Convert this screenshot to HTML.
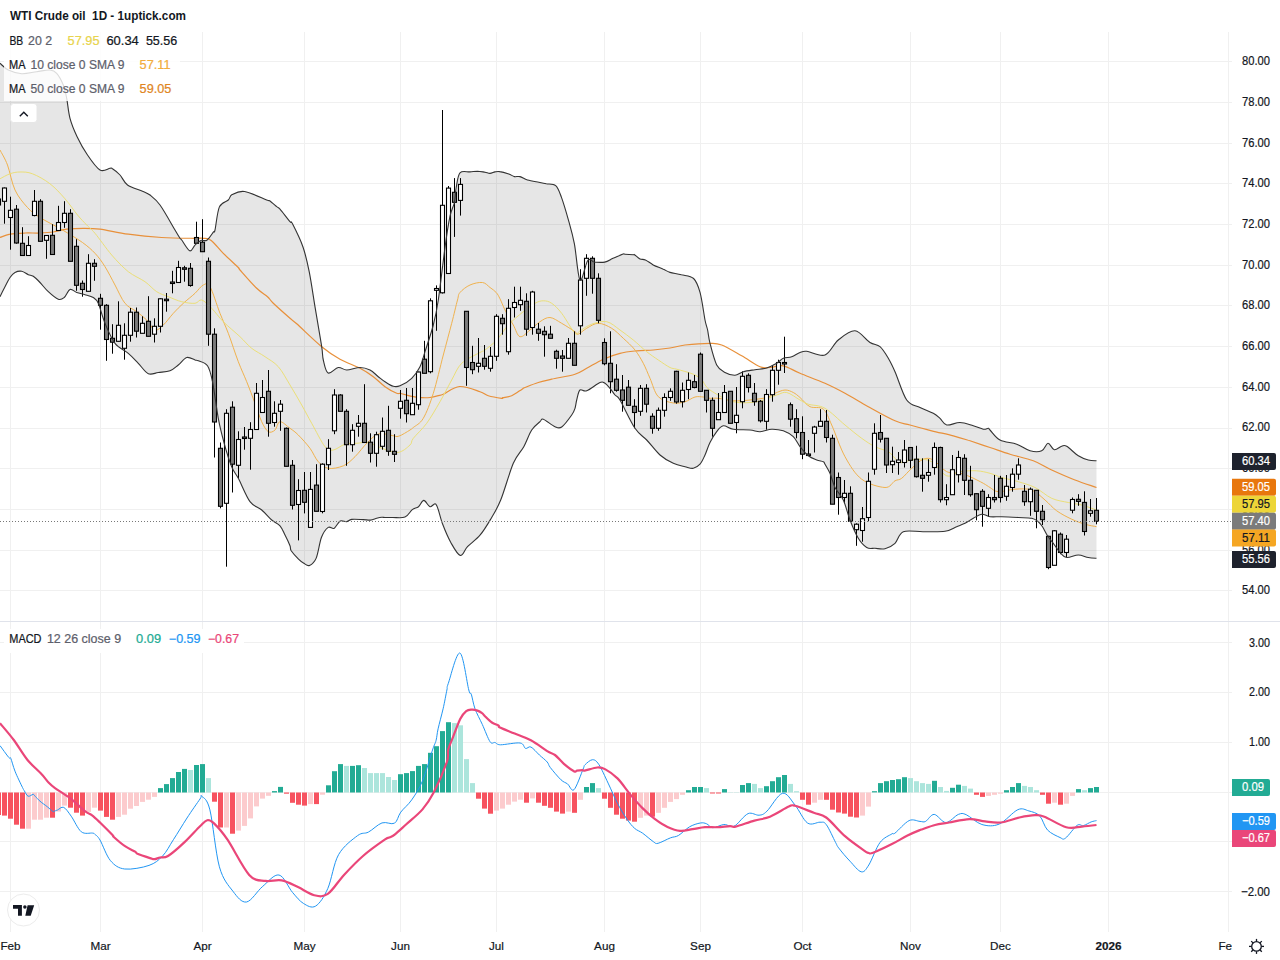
<!DOCTYPE html><html><head><meta charset="utf-8"><style>html,body{margin:0;padding:0;background:#fff;width:1280px;height:960px;overflow:hidden}svg{display:block}text{font-family:"Liberation Sans",sans-serif}</style></head><body>
<svg width="1280" height="960" viewBox="0 0 1280 960">
<rect width="1280" height="960" fill="#fff"/>
<line x1="0" y1="590.5" x2="1232" y2="590.5" stroke="#f0f0f0" stroke-width="1"/>
<line x1="0" y1="550.5" x2="1232" y2="550.5" stroke="#f0f0f0" stroke-width="1"/>
<line x1="0" y1="509.5" x2="1232" y2="509.5" stroke="#f0f0f0" stroke-width="1"/>
<line x1="0" y1="468.5" x2="1232" y2="468.5" stroke="#f0f0f0" stroke-width="1"/>
<line x1="0" y1="428.5" x2="1232" y2="428.5" stroke="#f0f0f0" stroke-width="1"/>
<line x1="0" y1="387.5" x2="1232" y2="387.5" stroke="#f0f0f0" stroke-width="1"/>
<line x1="0" y1="346.5" x2="1232" y2="346.5" stroke="#f0f0f0" stroke-width="1"/>
<line x1="0" y1="305.5" x2="1232" y2="305.5" stroke="#f0f0f0" stroke-width="1"/>
<line x1="0" y1="265.5" x2="1232" y2="265.5" stroke="#f0f0f0" stroke-width="1"/>
<line x1="0" y1="224.5" x2="1232" y2="224.5" stroke="#f0f0f0" stroke-width="1"/>
<line x1="0" y1="183.5" x2="1232" y2="183.5" stroke="#f0f0f0" stroke-width="1"/>
<line x1="0" y1="143.5" x2="1232" y2="143.5" stroke="#f0f0f0" stroke-width="1"/>
<line x1="0" y1="102.5" x2="1232" y2="102.5" stroke="#f0f0f0" stroke-width="1"/>
<line x1="0" y1="61.5" x2="1232" y2="61.5" stroke="#f0f0f0" stroke-width="1"/>
<line x1="10.5" y1="32" x2="10.5" y2="621" stroke="#f0f0f0" stroke-width="1"/>
<line x1="10.5" y1="622" x2="10.5" y2="932" stroke="#f0f0f0" stroke-width="1"/>
<line x1="100.5" y1="32" x2="100.5" y2="621" stroke="#f0f0f0" stroke-width="1"/>
<line x1="100.5" y1="622" x2="100.5" y2="932" stroke="#f0f0f0" stroke-width="1"/>
<line x1="202.5" y1="32" x2="202.5" y2="621" stroke="#f0f0f0" stroke-width="1"/>
<line x1="202.5" y1="622" x2="202.5" y2="932" stroke="#f0f0f0" stroke-width="1"/>
<line x1="304.5" y1="32" x2="304.5" y2="621" stroke="#f0f0f0" stroke-width="1"/>
<line x1="304.5" y1="622" x2="304.5" y2="932" stroke="#f0f0f0" stroke-width="1"/>
<line x1="400.5" y1="32" x2="400.5" y2="621" stroke="#f0f0f0" stroke-width="1"/>
<line x1="400.5" y1="622" x2="400.5" y2="932" stroke="#f0f0f0" stroke-width="1"/>
<line x1="496.5" y1="32" x2="496.5" y2="621" stroke="#f0f0f0" stroke-width="1"/>
<line x1="496.5" y1="622" x2="496.5" y2="932" stroke="#f0f0f0" stroke-width="1"/>
<line x1="604.5" y1="32" x2="604.5" y2="621" stroke="#f0f0f0" stroke-width="1"/>
<line x1="604.5" y1="622" x2="604.5" y2="932" stroke="#f0f0f0" stroke-width="1"/>
<line x1="700.5" y1="32" x2="700.5" y2="621" stroke="#f0f0f0" stroke-width="1"/>
<line x1="700.5" y1="622" x2="700.5" y2="932" stroke="#f0f0f0" stroke-width="1"/>
<line x1="802.5" y1="32" x2="802.5" y2="621" stroke="#f0f0f0" stroke-width="1"/>
<line x1="802.5" y1="622" x2="802.5" y2="932" stroke="#f0f0f0" stroke-width="1"/>
<line x1="910.5" y1="32" x2="910.5" y2="621" stroke="#f0f0f0" stroke-width="1"/>
<line x1="910.5" y1="622" x2="910.5" y2="932" stroke="#f0f0f0" stroke-width="1"/>
<line x1="1000.5" y1="32" x2="1000.5" y2="621" stroke="#f0f0f0" stroke-width="1"/>
<line x1="1000.5" y1="622" x2="1000.5" y2="932" stroke="#f0f0f0" stroke-width="1"/>
<line x1="1108.5" y1="32" x2="1108.5" y2="621" stroke="#f0f0f0" stroke-width="1"/>
<line x1="1108.5" y1="622" x2="1108.5" y2="932" stroke="#f0f0f0" stroke-width="1"/>
<line x1="1228.5" y1="32" x2="1228.5" y2="621" stroke="#f0f0f0" stroke-width="1"/>
<line x1="1228.5" y1="622" x2="1228.5" y2="932" stroke="#f0f0f0" stroke-width="1"/>
<line x1="0" y1="642.5" x2="1232" y2="642.5" stroke="#f0f0f0" stroke-width="1"/>
<line x1="0" y1="692.5" x2="1232" y2="692.5" stroke="#f0f0f0" stroke-width="1"/>
<line x1="0" y1="742.5" x2="1232" y2="742.5" stroke="#f0f0f0" stroke-width="1"/>
<line x1="0" y1="792.5" x2="1232" y2="792.5" stroke="#f0f0f0" stroke-width="1"/>
<line x1="0" y1="841.5" x2="1232" y2="841.5" stroke="#f0f0f0" stroke-width="1"/>
<line x1="0" y1="891.5" x2="1232" y2="891.5" stroke="#f0f0f0" stroke-width="1"/>
<line x1="0" y1="621.5" x2="1280" y2="621.5" stroke="#e0e3eb" stroke-width="1"/>
<path d="M0.0,63.3 C1.4,64.4 4.7,68.3 8.3,70.0 C11.9,71.7 17.0,73.4 21.7,73.7 C26.4,74.0 32.0,72.3 36.7,71.7 C41.4,71.1 46.7,69.7 50.0,70.0 C53.3,70.3 54.5,70.8 56.7,73.3 C58.9,75.8 61.6,80.8 63.3,85.0 C65.0,89.2 65.6,92.8 66.7,98.3 C67.8,103.8 68.3,111.9 70.0,118.3 C71.7,124.7 74.2,130.5 77.1,136.7 C80.0,142.8 83.7,149.4 87.5,155.0 C91.3,160.6 96.2,167.8 100.0,170.0 C103.8,172.2 107.9,168.5 110.0,168.3 C112.1,168.1 110.8,167.6 112.5,168.8 C114.2,169.9 117.5,172.3 120.0,175.0 C122.5,177.7 123.8,182.3 127.5,185.0 C131.2,187.7 138.8,189.6 142.5,191.2 C146.2,192.9 147.1,192.7 150.0,195.0 C152.9,197.3 155.8,199.2 160.0,205.0 C164.2,210.8 171.7,224.4 175.0,230.0 C178.3,235.6 178.9,236.6 180.0,238.3 C181.1,240.0 180.1,237.9 181.7,240.0 C183.3,242.1 187.5,249.9 189.7,250.8 C191.9,251.7 193.0,247.0 194.8,245.3 C196.7,243.6 198.8,241.2 200.8,240.4 C202.8,239.6 204.8,241.6 206.9,240.2 C209.0,238.8 212.0,233.8 213.3,232.1 C214.7,230.4 214.0,234.2 215.0,230.0 C216.0,225.8 217.2,211.9 219.4,206.9 C221.6,201.9 226.2,202.1 228.3,200.0 C230.4,197.9 229.4,196.0 232.1,194.6 C234.8,193.2 238.8,190.6 244.6,191.5 C250.4,192.4 262.5,198.4 266.7,200.0 C270.9,201.6 267.9,199.7 269.6,200.8 C271.3,201.9 275.0,205.3 276.7,206.7 C278.4,208.1 277.8,206.7 280.0,209.2 C282.2,211.7 287.9,219.3 290.0,221.7 C292.1,224.1 290.4,219.6 292.5,223.8 C294.6,227.9 300.1,238.7 302.9,246.7 C305.7,254.7 307.1,261.3 309.2,271.7 C311.3,282.1 313.3,296.7 315.4,309.2 C317.5,321.7 320.4,338.2 321.7,346.7 C323.0,355.2 322.2,355.6 323.3,360.0 C324.4,364.4 325.6,371.8 328.1,373.0 C330.6,374.2 335.2,368.0 338.3,367.5 C341.4,367.0 343.1,370.0 346.7,370.0 C350.3,370.0 356.1,367.5 360.0,367.5 C363.9,367.5 366.9,368.5 370.0,370.0 C373.1,371.5 375.8,374.8 378.3,376.7 C380.8,378.6 382.5,380.1 385.0,381.7 C387.5,383.3 390.8,385.6 393.3,386.3 C395.8,387.0 396.9,387.1 400.0,385.8 C403.1,384.5 408.4,381.5 411.7,378.3 C415.0,375.1 417.8,371.1 420.0,366.7 C422.2,362.3 422.8,358.6 425.0,351.7 C427.2,344.8 431.1,333.6 433.3,325.0 C435.5,316.4 436.4,312.9 438.3,300.0 C440.2,287.1 443.1,261.5 445.0,247.5 C446.9,233.5 448.4,223.8 450.0,216.2 C451.6,208.8 453.4,207.3 454.4,202.5 C455.4,197.7 455.3,192.5 456.2,187.5 C457.2,182.5 457.7,175.3 460.0,172.8 C462.3,170.2 467.1,172.2 470.0,171.9 C472.9,171.7 475.0,171.2 477.5,171.2 C480.0,171.3 482.9,171.9 485.0,172.2 C487.1,172.6 488.3,173.5 490.0,173.4 C491.7,173.4 493.4,172.2 495.0,171.9 C496.6,171.6 497.4,171.2 499.7,171.6 C502.0,171.9 506.4,173.2 508.8,174.0 C511.2,174.8 512.5,176.2 514.4,176.6 C516.3,177.0 517.8,176.0 520.0,176.6 C522.2,177.2 524.4,179.1 527.5,180.0 C530.6,180.9 535.7,181.7 538.8,182.3 C541.9,182.9 543.5,183.2 546.3,183.8 C549.1,184.3 553.2,183.4 555.7,185.6 C558.2,187.8 559.1,190.9 561.3,196.9 C563.5,202.9 566.6,213.5 568.8,221.3 C571.0,229.1 572.5,234.0 574.4,243.8 C576.3,253.5 577.8,277.2 580.0,280.0 C582.2,282.8 585.4,263.8 587.6,260.7 C589.8,257.6 592.1,261.4 593.3,261.7 C594.5,261.9 593.1,262.1 595.0,262.2 C596.9,262.3 601.9,262.7 604.7,262.1 C607.5,261.6 610.3,259.6 612.0,258.8 C613.7,258.0 613.1,258.3 615.0,257.5 C616.9,256.7 621.5,254.7 623.2,254.1 C624.9,253.5 623.3,254.1 625.0,254.2 C626.7,254.3 631.7,254.6 633.3,254.7 C634.9,254.8 633.4,254.0 634.5,254.7 C635.6,255.4 638.2,258.1 640.0,259.0 C641.9,259.9 643.1,258.9 645.4,259.9 C647.6,260.9 650.3,263.3 653.2,264.9 C656.2,266.5 660.5,267.9 663.3,269.2 C666.1,270.4 667.0,271.5 670.0,272.4 C673.1,273.3 677.5,273.7 681.4,274.8 C685.3,275.8 690.5,275.5 693.6,278.5 C696.7,281.5 698.2,285.7 700.1,292.6 C702.0,299.5 703.8,313.8 705.0,320.0 C706.2,326.2 706.8,326.1 707.6,330.0 C708.4,333.9 708.5,337.5 710.0,343.3 C711.5,349.1 714.2,360.1 716.7,365.0 C719.2,369.9 722.0,370.8 725.0,372.5 C728.0,374.2 732.0,375.4 735.0,375.3 C738.0,375.2 740.0,372.6 743.3,371.7 C746.6,370.8 751.1,370.3 755.0,369.7 C758.9,369.1 763.1,369.1 766.7,368.0 C770.3,366.9 773.9,364.9 776.7,363.3 C779.5,361.7 780.8,359.4 783.3,358.3 C785.8,357.2 788.9,357.7 791.7,356.7 C794.5,355.7 797.5,353.4 800.0,352.5 C802.5,351.6 802.5,350.9 806.7,351.3 C810.9,351.7 819.7,356.9 825.0,355.0 C830.3,353.1 833.3,344.0 838.3,340.0 C843.3,336.0 849.7,330.4 855.0,330.8 C860.3,331.2 865.8,339.9 870.0,342.5 C874.2,345.1 877.0,344.1 880.0,346.7 C883.0,349.3 885.8,354.1 888.3,358.3 C890.8,362.5 891.9,364.8 895.0,371.7 C898.1,378.6 902.5,394.0 906.7,400.0 C910.9,406.0 915.6,405.3 920.0,407.5 C924.4,409.7 930.0,411.5 933.3,413.3 C936.6,415.1 937.8,416.4 940.0,418.3 C942.2,420.2 943.4,424.3 946.7,425.0 C950.0,425.7 955.6,422.4 960.0,422.5 C964.4,422.6 969.4,424.7 973.3,425.8 C977.2,426.9 980.8,428.8 983.3,429.2 C985.8,429.6 987.2,428.2 988.3,428.3 C989.4,428.4 988.0,428.1 990.0,430.0 C992.0,431.9 995.5,437.6 1000.0,440.0 C1004.5,442.4 1011.7,442.4 1016.7,444.2 C1021.7,446.0 1025.8,449.7 1030.0,450.8 C1034.2,451.9 1038.7,452.1 1041.7,450.8 C1044.7,449.6 1045.9,443.5 1048.0,443.3 C1050.1,443.1 1051.9,449.2 1054.2,449.7 C1056.5,450.2 1059.6,446.9 1061.7,446.3 C1063.8,445.7 1063.9,444.7 1066.7,446.3 C1069.5,447.9 1074.7,453.5 1078.3,455.8 C1081.9,458.1 1085.3,459.2 1088.3,460.0 C1091.3,460.8 1095.1,460.7 1096.5,460.8 L1096.5,558.3 C1095.1,558.2 1091.3,558.0 1088.3,557.5 C1085.3,557.0 1081.9,555.0 1078.3,555.0 C1074.7,555.0 1069.8,557.9 1066.7,557.5 C1063.7,557.1 1062.2,554.9 1060.0,552.5 C1057.8,550.1 1055.4,546.1 1053.3,543.3 C1051.2,540.5 1049.3,538.6 1047.5,535.8 C1045.7,533.0 1044.0,529.1 1042.5,526.7 C1041.0,524.4 1040.1,523.1 1038.3,521.7 C1036.5,520.3 1035.0,519.0 1031.7,518.3 C1028.4,517.6 1023.3,517.8 1018.3,517.5 C1013.3,517.2 1006.4,516.8 1001.7,516.7 C997.0,516.6 993.3,517.1 990.0,516.7 C986.7,516.3 984.5,513.9 981.7,514.2 C978.9,514.5 976.1,516.8 973.3,518.3 C970.5,519.8 967.8,521.9 965.0,523.3 C962.2,524.7 960.0,525.4 956.7,526.7 C953.4,528.0 950.6,530.5 945.0,531.3 C939.4,532.1 930.2,531.6 923.3,531.7 C916.3,531.8 908.0,529.8 903.3,531.7 C898.6,533.6 898.0,540.5 895.0,543.3 C892.0,546.1 888.3,547.9 885.0,548.7 C881.7,549.5 878.0,548.5 875.0,548.3 C872.0,548.1 869.5,549.2 866.7,547.5 C863.9,545.8 861.1,542.9 858.3,538.3 C855.5,533.7 852.5,526.4 850.0,520.0 C847.5,513.6 845.8,505.4 843.3,500.0 C840.8,494.6 837.2,491.9 835.0,487.5 C832.8,483.1 831.7,477.2 830.0,473.3 C828.3,469.4 826.1,466.1 825.0,464.2 C823.9,462.3 824.7,462.4 823.3,461.7 C821.9,461.0 819.2,461.0 816.7,460.0 C814.2,459.0 811.1,458.0 808.3,455.8 C805.5,453.6 802.5,449.9 800.0,446.7 C797.5,443.5 796.1,439.3 793.3,436.7 C790.5,434.1 786.9,432.1 783.3,430.8 C779.7,429.6 775.6,429.1 771.7,429.2 C767.8,429.3 763.6,431.6 760.0,431.7 C756.4,431.8 754.5,430.4 750.0,430.0 C745.5,429.6 737.8,429.9 733.3,429.2 C728.8,428.5 726.1,425.4 723.3,425.8 C720.5,426.2 718.9,428.9 716.7,431.7 C714.5,434.5 712.0,438.6 710.0,442.5 C708.0,446.4 706.7,451.4 705.0,455.0 C703.3,458.6 702.0,462.0 700.0,464.2 C698.0,466.4 695.8,467.9 693.3,468.3 C690.8,468.7 688.3,467.5 685.0,466.7 C681.7,465.9 677.5,465.2 673.3,463.3 C669.1,461.4 664.4,458.9 660.0,455.0 C655.6,451.1 650.9,444.4 646.7,440.0 C642.5,435.6 639.5,435.0 635.0,428.3 C630.5,421.6 623.3,405.6 620.0,400.0 C616.7,394.4 616.7,396.9 615.0,395.0 C613.3,393.1 611.7,390.2 610.0,388.3 C608.3,386.4 606.7,384.3 605.0,383.3 C603.3,382.3 603.0,381.2 600.0,382.5 C597.0,383.8 590.0,389.6 586.7,390.8 C583.4,392.1 581.7,388.5 580.0,390.0 C578.3,391.5 577.5,396.9 576.7,400.0 C575.9,403.1 575.8,405.8 575.0,408.3 C574.2,410.8 573.9,411.9 571.7,415.0 C569.5,418.1 564.5,425.1 561.7,427.0 C558.9,428.9 558.1,428.0 555.0,426.7 C551.9,425.4 545.8,420.0 543.3,419.2 C540.8,418.4 541.9,419.9 540.0,421.7 C538.1,423.5 534.4,425.8 531.7,430.0 C529.0,434.2 526.8,441.1 523.8,446.7 C520.7,452.2 517.1,454.4 513.3,463.3 C509.5,472.2 504.6,490.4 500.8,499.8 C497.0,509.2 493.9,513.7 490.4,519.6 C486.9,525.5 483.8,530.7 480.0,535.2 C476.2,539.7 470.8,543.3 467.5,546.7 C464.2,550.1 463.0,556.1 460.2,555.4 C457.4,554.7 453.8,547.8 450.8,542.5 C447.9,537.2 444.9,530.1 442.5,523.8 C440.1,517.4 438.3,507.4 436.2,504.6 C434.2,501.8 432.1,507.4 430.0,506.7 C427.9,506.0 425.7,500.4 423.8,500.4 C421.8,500.4 420.4,505.2 418.5,506.7 C416.6,508.2 414.6,507.9 412.3,509.6 C410.1,511.3 408.3,515.8 405.0,517.1 C401.7,518.4 395.8,517.4 392.5,517.5 C389.2,517.6 386.8,517.5 385.0,517.5 C383.2,517.5 383.3,517.2 381.9,517.3 C380.5,517.4 378.6,517.8 376.7,518.3 C374.8,518.8 372.7,519.9 370.4,520.1 C368.1,520.3 366.2,519.7 363.1,519.6 C360.0,519.5 354.5,519.0 351.7,519.4 C348.9,519.8 348.4,521.4 346.5,521.7 C344.6,522.0 342.3,520.0 340.2,521.1 C338.1,522.2 336.0,527.4 334.0,528.4 C332.0,529.4 330.3,525.9 328.2,527.4 C326.1,528.9 323.5,532.2 321.5,537.3 C319.5,542.4 318.2,553.4 316.2,558.1 C314.2,562.8 311.6,564.5 309.5,565.4 C307.4,566.3 305.6,564.3 303.8,563.3 C301.9,562.3 300.6,561.3 298.5,559.2 C296.4,557.1 292.7,553.0 291.2,550.8 C289.8,548.6 291.0,548.4 290.0,545.8 C289.0,543.2 286.7,538.3 285.0,535.0 C283.3,531.7 282.2,528.3 280.0,525.8 C277.8,523.3 274.8,522.6 271.7,520.0 C268.6,517.4 265.3,513.0 261.7,510.0 C258.1,506.9 253.9,507.0 250.0,501.7 C246.1,496.4 241.4,484.1 238.3,478.3 C235.2,472.5 234.0,472.5 231.7,466.7 C229.3,460.9 226.4,451.4 224.2,443.3 C222.0,435.2 220.2,428.6 218.3,418.3 C216.4,408.0 214.3,390.4 212.5,381.7 C210.7,372.9 209.9,369.3 207.5,365.8 C205.1,362.3 200.4,361.8 198.3,360.8 C196.2,359.8 196.9,360.6 195.0,360.0 C193.1,359.4 189.5,356.7 186.7,357.5 C183.9,358.3 181.1,362.8 178.3,365.0 C175.5,367.2 173.3,369.6 170.0,370.8 C166.7,372.1 161.9,372.0 158.3,372.5 C154.7,373.0 151.6,375.2 148.3,373.7 C145.0,372.2 141.6,366.7 138.3,363.3 C135.0,359.9 132.2,356.6 128.3,353.3 C124.4,350.0 118.9,348.3 115.0,343.3 C111.1,338.3 107.8,330.0 105.0,323.3 C102.2,316.6 100.2,307.6 98.3,303.3 C96.3,299.0 95.5,298.9 93.3,297.5 C91.1,296.1 87.8,295.5 85.0,294.7 C82.2,293.9 79.2,293.4 76.7,292.5 C74.2,291.6 72.1,288.7 70.0,289.5 C67.9,290.3 66.2,295.9 64.2,297.5 C62.2,299.1 60.9,300.2 58.3,299.2 C55.6,298.2 51.3,294.5 48.3,291.7 C45.2,288.9 42.5,285.1 40.0,282.5 C37.5,279.9 35.2,277.6 33.3,276.3 C31.3,275.0 30.2,275.5 28.3,274.7 C26.4,273.9 23.9,271.7 21.7,271.3 C19.5,270.9 16.9,271.5 15.0,272.5 C13.1,273.5 11.7,275.1 10.0,277.5 C8.3,279.9 6.7,283.5 5.0,286.7 C3.3,289.9 0.8,295.0 0.0,296.7 Z" fill="#000" fill-opacity="0.098" stroke="none"/>
<path d="M0.0,237.5 C1.7,236.9 5.8,234.9 10.0,234.2 C14.2,233.4 20.0,233.2 25.0,233.0 C30.0,232.8 35.3,233.2 40.0,233.0 C44.7,232.8 48.8,232.6 53.3,232.0 C57.8,231.4 61.7,229.8 66.7,229.2 C71.7,228.6 77.8,228.3 83.3,228.3 C88.8,228.3 92.5,228.2 100.0,229.2 C107.5,230.2 118.0,232.8 128.3,234.2 C138.6,235.6 150.6,236.8 161.7,237.5 C172.8,238.2 188.1,238.2 195.0,238.3 C201.9,238.4 200.6,238.0 203.3,238.3 C206.0,238.7 207.9,237.9 211.2,240.4 C214.6,242.9 218.8,248.8 223.3,253.3 C227.8,257.8 235.5,264.7 238.3,267.5 C241.1,270.3 236.9,266.5 240.0,270.0 C243.1,273.5 252.1,283.9 256.7,288.3 C261.3,292.8 264.7,294.2 267.5,296.7 C270.3,299.2 269.6,299.7 273.3,303.3 C277.1,306.9 286.1,314.9 290.0,318.3 C293.9,321.7 291.4,319.0 296.7,323.8 C302.0,328.5 314.5,340.8 321.7,346.7 C328.9,352.6 333.6,355.6 340.0,359.2 C346.4,362.8 354.4,365.4 360.0,368.3 C365.6,371.2 369.1,373.6 373.3,376.7 C377.5,379.8 381.1,383.9 385.0,386.7 C388.9,389.5 394.1,392.2 396.7,393.3 C399.3,394.4 398.0,392.9 400.8,393.5 C403.6,394.1 409.8,396.0 413.3,396.7 C416.8,397.4 418.9,397.6 421.7,397.7 C424.5,397.8 427.2,397.9 430.0,397.5 C432.8,397.1 436.1,396.2 438.3,395.6 C440.5,395.1 439.8,395.7 443.3,394.2 C446.9,392.7 453.5,386.9 459.6,386.5 C465.7,386.1 475.2,390.1 480.0,391.7 C484.8,393.2 484.7,394.7 488.3,395.8 C491.9,396.9 499.3,398.0 501.7,398.3 C504.1,398.6 501.2,398.1 502.9,397.7 C504.6,397.3 508.6,397.2 511.7,395.8 C514.8,394.4 519.5,390.8 521.7,389.4 C523.9,388.0 522.2,388.6 525.0,387.5 C527.8,386.4 533.8,383.9 538.3,382.5 C542.8,381.1 545.6,380.6 551.7,379.2 C557.8,377.8 569.2,376.0 575.0,374.2 C580.8,372.4 582.0,370.8 586.7,368.3 C591.4,365.8 597.8,361.7 603.3,359.2 C608.8,356.7 614.4,354.7 620.0,353.3 C625.6,351.9 631.2,351.4 636.7,350.8 C642.2,350.2 647.8,350.5 653.3,350.0 C658.8,349.5 664.7,348.8 670.0,348.0 C675.3,347.2 678.3,345.8 685.0,345.0 C691.7,344.2 703.9,343.3 710.0,343.3 C716.1,343.3 716.4,342.9 721.7,345.0 C727.0,347.1 735.3,352.2 741.7,355.8 C748.1,359.4 755.3,364.8 760.0,366.7 C764.7,368.6 766.1,367.6 770.0,367.5 C773.9,367.4 778.3,364.8 783.3,365.8 C788.3,366.8 793.0,370.4 800.0,373.3 C807.0,376.2 817.5,380.0 825.0,383.3 C832.5,386.6 837.8,389.4 845.0,393.3 C852.2,397.2 860.0,402.1 868.3,406.7 C876.6,411.3 888.0,417.8 895.0,420.8 C902.0,423.9 903.9,423.3 910.0,425.0 C916.1,426.7 924.5,429.0 931.7,430.8 C938.9,432.6 946.9,434.1 953.3,435.8 C959.7,437.5 963.9,438.9 970.0,440.8 C976.1,442.8 983.3,445.3 990.0,447.5 C996.7,449.7 1002.8,452.0 1010.0,454.2 C1017.2,456.4 1026.3,458.2 1033.3,460.8 C1040.2,463.4 1044.8,466.8 1051.7,470.0 C1058.7,473.2 1067.5,477.1 1075.0,480.0 C1082.5,482.9 1092.9,486.2 1096.5,487.5" fill="none" stroke="#e8903a" stroke-width="1.2"/>
<path d="M0.0,150.0 C1.2,152.5 5.0,158.3 7.5,165.0 C10.0,171.7 11.7,182.9 15.0,190.0 C18.3,197.1 23.3,202.9 27.5,207.5 C31.7,212.1 34.2,213.8 40.0,217.5 C45.8,221.2 55.4,225.8 62.5,230.0 C69.6,234.2 77.1,238.6 82.5,242.5 C87.9,246.4 91.2,249.3 95.0,253.3 C98.8,257.3 101.7,261.4 105.0,266.7 C108.3,272.0 111.7,278.9 115.0,285.0 C118.3,291.1 121.4,298.9 125.0,303.3 C128.6,307.8 133.1,308.9 136.7,311.7 C140.3,314.5 143.6,316.9 146.7,320.0 C149.8,323.1 152.2,329.2 155.0,330.0 C157.8,330.8 160.2,327.8 163.3,325.0 C166.4,322.2 170.0,316.9 173.3,313.3 C176.6,309.7 179.7,306.6 183.3,303.3 C186.9,300.0 191.7,296.4 195.0,293.3 C198.3,290.2 200.8,286.1 203.3,285.0 C205.8,283.9 207.2,282.0 210.0,286.7 C212.8,291.4 216.9,305.5 220.0,313.3 C223.1,321.1 225.2,325.2 228.3,333.3 C231.4,341.4 235.2,353.6 238.3,361.7 C241.4,369.8 243.9,374.8 246.7,381.7 C249.5,388.6 252.5,396.6 255.0,403.3 C257.5,410.0 259.5,417.0 261.7,421.7 C263.9,426.4 266.1,430.3 268.3,431.7 C270.5,433.1 273.1,431.7 275.0,430.0 C276.9,428.3 277.5,422.0 280.0,421.7 C282.5,421.4 286.9,426.1 290.0,428.3 C293.1,430.5 295.0,431.7 298.3,435.0 C301.6,438.3 306.7,443.9 310.0,448.3 C313.3,452.8 315.2,458.4 318.3,461.7 C321.4,465.0 324.1,467.6 328.3,468.3 C332.5,469.0 338.9,467.7 343.3,465.8 C347.8,463.9 351.0,460.6 355.0,456.7 C359.0,452.8 363.5,446.3 367.5,442.5 C371.5,438.7 374.6,434.9 378.8,433.8 C382.9,432.6 389.2,435.2 392.5,435.6 C395.8,436.0 395.8,437.2 398.8,436.2 C401.7,435.3 407.6,431.5 410.0,430.0 C412.4,428.5 411.1,429.4 413.3,427.5 C415.5,425.6 420.0,424.0 423.3,418.3 C426.6,412.6 430.0,403.9 433.3,393.3 C436.6,382.8 440.2,366.7 443.3,355.0 C446.4,343.3 449.3,332.5 451.7,323.3 C454.1,314.1 456.1,305.1 457.5,300.0 C458.9,294.9 457.9,295.0 460.0,292.5 C462.1,290.0 466.2,286.7 470.0,285.0 C473.8,283.3 479.2,282.1 482.5,282.5 C485.8,282.9 487.7,285.8 490.0,287.5 C492.3,289.2 494.6,290.6 496.2,292.5 C497.9,294.4 498.5,295.8 500.0,298.8 C501.5,301.7 502.8,305.6 505.0,310.0 C507.2,314.4 510.8,320.6 513.3,325.0 C515.8,329.4 517.2,335.9 520.0,336.7 C522.8,337.5 526.7,332.5 530.0,330.0 C533.3,327.5 536.7,323.8 540.0,321.7 C543.3,319.6 546.4,317.2 550.0,317.5 C553.6,317.8 557.5,320.9 561.7,323.3 C565.9,325.7 572.2,329.9 575.0,331.7 C577.8,333.5 576.3,334.8 578.3,334.2 C580.2,333.6 583.4,330.1 586.7,328.3 C590.0,326.5 594.1,323.3 598.3,323.3 C602.5,323.3 607.5,325.8 611.7,328.3 C615.9,330.8 619.4,334.7 623.3,338.3 C627.2,341.9 631.7,345.8 635.0,350.0 C638.3,354.2 640.8,358.6 643.3,363.3 C645.8,368.0 647.5,372.7 650.0,378.3 C652.5,383.9 654.4,392.6 658.3,396.7 C662.2,400.8 668.8,402.2 673.3,403.0 C677.8,403.8 681.4,402.7 685.0,401.7 C688.6,400.7 692.0,397.8 695.0,397.0 C698.0,396.2 700.8,396.8 703.3,397.0 C705.8,397.2 707.5,398.1 710.0,398.3 C712.5,398.5 714.4,397.9 718.3,398.3 C722.2,398.7 728.0,400.5 733.3,400.8 C738.6,401.1 744.4,400.6 750.0,400.0 C755.6,399.4 762.5,398.6 766.7,397.5 C770.9,396.4 772.0,394.6 775.0,393.3 C778.0,392.1 782.0,390.1 785.0,390.0 C788.0,389.9 790.8,391.2 793.3,392.5 C795.8,393.8 797.2,395.1 800.0,397.5 C802.8,399.9 806.1,404.8 810.0,406.7 C813.9,408.6 819.7,406.1 823.3,409.2 C826.9,412.2 828.1,417.1 831.7,425.0 C835.3,432.9 840.0,447.7 845.0,456.7 C850.0,465.7 855.0,474.1 861.7,479.2 C868.4,484.3 879.5,487.2 885.0,487.5 C890.5,487.8 892.2,482.3 895.0,480.8 C897.8,479.3 898.9,480.4 901.7,478.3 C904.5,476.2 908.1,471.5 911.7,468.3 C915.3,465.1 919.7,460.6 923.3,459.2 C926.9,457.8 929.4,457.9 933.3,460.0 C937.2,462.1 942.2,469.5 946.7,471.7 C951.2,473.9 956.1,472.5 960.0,473.3 C963.9,474.1 966.1,475.0 970.0,476.7 C973.9,478.4 980.0,481.5 983.3,483.3 C986.6,485.1 987.5,486.1 990.0,487.5 C992.5,488.9 994.1,491.4 998.3,491.7 C1002.5,492.0 1009.4,489.5 1015.0,489.2 C1020.6,488.9 1026.7,488.2 1031.7,490.0 C1036.7,491.8 1040.8,496.5 1045.0,500.0 C1049.2,503.5 1052.2,507.6 1056.7,510.8 C1061.2,514.0 1067.0,517.0 1071.7,519.2 C1076.4,521.4 1080.9,523.0 1085.0,524.2 C1089.1,525.5 1094.6,526.3 1096.5,526.7" fill="none" stroke="#f0b24e" stroke-width="1"/>
<path d="M0.0,178.8 C1.7,177.9 6.7,174.9 10.0,173.8 C13.3,172.6 16.2,172.0 20.0,172.0 C23.8,172.0 27.5,171.8 32.5,173.8 C37.5,175.7 44.6,179.6 50.0,183.8 C55.4,187.9 60.4,193.5 65.0,198.8 C69.6,204.0 73.9,210.6 77.5,215.0 C81.1,219.4 83.8,221.9 86.7,225.0 C89.6,228.1 90.8,228.3 95.0,233.3 C99.2,238.3 106.2,248.6 111.7,255.0 C117.2,261.4 122.8,267.2 128.3,271.7 C133.9,276.1 140.3,278.4 145.0,281.7 C149.7,285.0 152.8,289.2 156.7,291.7 C160.6,294.2 164.1,295.0 168.3,296.7 C172.5,298.4 177.2,300.6 181.7,301.7 C186.1,302.8 191.7,303.6 195.0,303.3 C198.3,303.0 198.9,299.2 201.7,300.0 C204.5,300.8 208.1,304.7 211.7,308.3 C215.3,311.9 218.6,317.0 223.3,321.7 C228.0,326.4 235.3,332.3 240.0,336.7 C244.7,341.1 247.5,345.0 251.7,348.3 C255.9,351.6 260.6,353.6 265.0,356.7 C269.4,359.8 274.1,362.0 278.3,366.7 C282.5,371.4 286.1,378.6 290.0,385.0 C293.9,391.4 298.1,398.6 301.7,405.0 C305.3,411.4 307.8,416.4 311.7,423.3 C315.6,430.2 321.4,442.2 325.0,446.7 C328.6,451.1 330.0,450.4 333.3,450.0 C336.6,449.6 341.1,445.3 345.0,444.2 C348.9,443.1 352.8,443.6 356.7,443.3 C360.6,443.0 364.4,441.8 368.3,442.5 C372.2,443.2 375.1,445.8 380.0,447.5 C384.9,449.2 392.5,452.9 397.5,452.5 C402.5,452.1 407.4,447.4 410.0,445.0 C412.6,442.6 410.5,441.9 413.3,438.3 C416.1,434.7 422.2,429.4 426.7,423.3 C431.1,417.2 435.8,408.9 440.0,401.7 C444.2,394.5 448.1,386.4 451.7,380.0 C455.3,373.6 457.0,367.9 461.7,363.3 C466.4,358.7 476.1,354.7 480.0,352.5 C483.9,350.3 482.2,352.1 485.0,350.0 C487.8,347.9 492.8,344.2 496.7,340.0 C500.6,335.8 503.9,329.7 508.3,325.0 C512.7,320.3 518.8,315.3 523.3,311.7 C527.8,308.1 531.7,305.1 535.0,303.3 C538.3,301.5 540.5,300.8 543.3,300.8 C546.1,300.8 548.6,301.2 551.7,303.3 C554.8,305.4 557.8,308.3 561.7,313.3 C565.6,318.3 572.0,330.4 575.0,333.3 C578.0,336.2 577.2,332.3 580.0,330.8 C582.8,329.3 587.2,325.7 591.7,324.2 C596.2,322.7 602.0,320.7 606.7,321.7 C611.4,322.7 615.6,326.9 620.0,330.0 C624.4,333.1 628.8,336.4 633.3,340.0 C637.8,343.6 642.5,348.4 646.7,351.7 C650.9,355.0 654.4,357.4 658.3,360.0 C662.2,362.6 666.9,366.0 670.0,367.5 C673.1,369.0 672.8,368.1 676.7,369.2 C680.6,370.3 689.1,372.4 693.3,374.2 C697.5,376.0 698.9,377.4 701.7,380.0 C704.5,382.6 704.7,386.4 710.0,390.0 C715.3,393.6 725.5,399.8 733.3,401.7 C741.1,403.6 749.5,402.8 756.7,401.7 C763.9,400.6 771.7,396.5 776.7,395.0 C781.7,393.5 782.8,391.7 786.7,392.5 C790.6,393.3 796.4,398.1 800.0,400.0 C803.6,401.9 804.1,402.8 808.3,404.2 C812.5,405.6 818.9,404.8 825.0,408.3 C831.1,411.8 838.9,420.0 845.0,425.0 C851.1,430.0 856.7,434.7 861.7,438.3 C866.7,441.9 870.6,444.5 875.0,446.7 C879.4,448.9 885.0,449.8 888.3,451.7 C891.6,453.6 893.0,456.5 895.0,458.3 C897.0,460.1 896.4,462.4 900.0,462.5 C903.6,462.6 911.4,459.3 916.7,459.2 C922.0,459.1 926.7,458.9 931.7,461.7 C936.7,464.5 942.0,474.1 946.7,475.8 C951.4,477.5 955.0,472.5 960.0,471.7 C965.0,470.9 971.7,470.5 976.7,470.8 C981.7,471.1 985.8,472.2 990.0,473.3 C994.2,474.4 997.0,476.1 1001.7,477.5 C1006.4,478.9 1012.8,480.0 1018.3,481.7 C1023.8,483.4 1029.4,484.7 1035.0,487.5 C1040.6,490.3 1046.2,495.8 1051.7,498.3 C1057.2,500.8 1063.3,501.4 1068.3,502.5 C1073.3,503.6 1077.0,503.8 1081.7,505.0 C1086.4,506.2 1094.0,509.2 1096.5,510.0" fill="none" stroke="#ebdf78" stroke-width="1"/>
<line x1="-1.5" y1="197.0" x2="-1.5" y2="212.0" stroke="#000" stroke-width="1"/>
<rect x="-3.5" y="199.0" width="4" height="6.0" fill="#7b7b7b" stroke="#000" stroke-width="1.1"/>
<line x1="4.5" y1="187.5" x2="4.5" y2="223.7" stroke="#000" stroke-width="1"/>
<rect x="2.5" y="188.0" width="4" height="13.3" fill="#fff" stroke="#000" stroke-width="1.1"/>
<line x1="10.5" y1="196.7" x2="10.5" y2="249.7" stroke="#000" stroke-width="1"/>
<rect x="8.5" y="210.3" width="4" height="7.2" fill="#fff" stroke="#000" stroke-width="1.1"/>
<line x1="16.5" y1="205.0" x2="16.5" y2="243.7" stroke="#000" stroke-width="1"/>
<rect x="14.5" y="209.2" width="4" height="33.8" fill="#7b7b7b" stroke="#000" stroke-width="1.1"/>
<line x1="22.5" y1="227.2" x2="22.5" y2="255.5" stroke="#000" stroke-width="1"/>
<rect x="20.5" y="243.3" width="4" height="12.2" fill="#7b7b7b" stroke="#000" stroke-width="1.1"/>
<line x1="28.5" y1="236.2" x2="28.5" y2="255.5" stroke="#000" stroke-width="1"/>
<rect x="26.5" y="245.5" width="4" height="10.0" fill="#fff" stroke="#000" stroke-width="1.1"/>
<line x1="34.5" y1="190.0" x2="34.5" y2="216.3" stroke="#000" stroke-width="1"/>
<rect x="32.5" y="201.3" width="4" height="14.2" fill="#fff" stroke="#000" stroke-width="1.1"/>
<line x1="40.5" y1="199.2" x2="40.5" y2="241.3" stroke="#000" stroke-width="1"/>
<rect x="38.5" y="201.3" width="4" height="40.0" fill="#7b7b7b" stroke="#000" stroke-width="1.1"/>
<line x1="46.5" y1="235.5" x2="46.5" y2="258.8" stroke="#000" stroke-width="1"/>
<rect x="44.5" y="235.5" width="4" height="4.8" fill="#fff" stroke="#000" stroke-width="1.1"/>
<line x1="52.5" y1="224.2" x2="52.5" y2="254.5" stroke="#000" stroke-width="1"/>
<rect x="50.5" y="235.3" width="4" height="19.2" fill="#7b7b7b" stroke="#000" stroke-width="1.1"/>
<line x1="58.5" y1="205.8" x2="58.5" y2="230.5" stroke="#000" stroke-width="1"/>
<rect x="56.5" y="222.5" width="4" height="8.0" fill="#fff" stroke="#000" stroke-width="1.1"/>
<line x1="64.5" y1="201.2" x2="64.5" y2="227.8" stroke="#000" stroke-width="1"/>
<rect x="62.5" y="213.3" width="4" height="9.2" fill="#fff" stroke="#000" stroke-width="1.1"/>
<line x1="70.5" y1="209.2" x2="70.5" y2="261.3" stroke="#000" stroke-width="1"/>
<rect x="68.5" y="213.3" width="4" height="48.0" fill="#7b7b7b" stroke="#000" stroke-width="1.1"/>
<line x1="76.5" y1="239.2" x2="76.5" y2="290.8" stroke="#000" stroke-width="1"/>
<rect x="74.5" y="246.3" width="4" height="39.0" fill="#7b7b7b" stroke="#000" stroke-width="1.1"/>
<line x1="82.5" y1="280.5" x2="82.5" y2="296.7" stroke="#000" stroke-width="1"/>
<rect x="80.5" y="283.3" width="4" height="6.2" fill="#7b7b7b" stroke="#000" stroke-width="1.1"/>
<line x1="88.5" y1="254.2" x2="88.5" y2="291.3" stroke="#000" stroke-width="1"/>
<rect x="86.5" y="263.3" width="4" height="28.0" fill="#fff" stroke="#000" stroke-width="1.1"/>
<line x1="94.5" y1="259.2" x2="94.5" y2="280.8" stroke="#000" stroke-width="1"/>
<rect x="92.5" y="263.3" width="4" height="3.0" fill="#7b7b7b" stroke="#000" stroke-width="1.1"/>
<line x1="100.5" y1="293.8" x2="100.5" y2="329.7" stroke="#000" stroke-width="1"/>
<rect x="98.5" y="298.3" width="4" height="7.0" fill="#7b7b7b" stroke="#000" stroke-width="1.1"/>
<line x1="106.5" y1="304.2" x2="106.5" y2="360.8" stroke="#000" stroke-width="1"/>
<rect x="104.5" y="305.3" width="4" height="34.2" fill="#7b7b7b" stroke="#000" stroke-width="1.1"/>
<line x1="112.5" y1="324.2" x2="112.5" y2="353.7" stroke="#000" stroke-width="1"/>
<rect x="110.5" y="338.3" width="4" height="3.9" fill="#7b7b7b" stroke="#000" stroke-width="1.1"/>
<line x1="118.5" y1="301.3" x2="118.5" y2="341.3" stroke="#000" stroke-width="1"/>
<rect x="116.5" y="325.3" width="4" height="16.0" fill="#fff" stroke="#000" stroke-width="1.1"/>
<line x1="124.5" y1="323.3" x2="124.5" y2="359.7" stroke="#000" stroke-width="1"/>
<rect x="122.5" y="335.3" width="4" height="13.0" fill="#fff" stroke="#000" stroke-width="1.1"/>
<line x1="130.5" y1="308.0" x2="130.5" y2="341.7" stroke="#000" stroke-width="1"/>
<rect x="128.5" y="312.2" width="4" height="23.1" fill="#fff" stroke="#000" stroke-width="1.1"/>
<line x1="136.5" y1="307.5" x2="136.5" y2="337.5" stroke="#000" stroke-width="1"/>
<rect x="134.5" y="312.2" width="4" height="19.0" fill="#7b7b7b" stroke="#000" stroke-width="1.1"/>
<line x1="142.5" y1="316.3" x2="142.5" y2="333.3" stroke="#000" stroke-width="1"/>
<rect x="140.5" y="323.3" width="4" height="10.0" fill="#fff" stroke="#000" stroke-width="1.1"/>
<line x1="148.5" y1="296.2" x2="148.5" y2="336.3" stroke="#000" stroke-width="1"/>
<rect x="146.5" y="321.3" width="4" height="15.0" fill="#7b7b7b" stroke="#000" stroke-width="1.1"/>
<line x1="154.5" y1="318.3" x2="154.5" y2="342.5" stroke="#000" stroke-width="1"/>
<rect x="152.5" y="326.3" width="4" height="7.9" fill="#fff" stroke="#000" stroke-width="1.1"/>
<line x1="160.5" y1="298.3" x2="160.5" y2="332.5" stroke="#000" stroke-width="1"/>
<rect x="158.5" y="298.8" width="4" height="27.5" fill="#fff" stroke="#000" stroke-width="1.1"/>
<line x1="166.5" y1="293.0" x2="166.5" y2="311.7" stroke="#000" stroke-width="1"/>
<rect x="164.5" y="299.2" width="4" height="1.5" fill="#7b7b7b" stroke="#000" stroke-width="1.1"/>
<line x1="172.5" y1="270.8" x2="172.5" y2="293.3" stroke="#000" stroke-width="1"/>
<rect x="170.5" y="282.0" width="4" height="1.5" fill="#7b7b7b" stroke="#000" stroke-width="1.1"/>
<line x1="178.5" y1="260.8" x2="178.5" y2="282.5" stroke="#000" stroke-width="1"/>
<rect x="176.5" y="267.5" width="4" height="15.0" fill="#fff" stroke="#000" stroke-width="1.1"/>
<line x1="184.5" y1="265.8" x2="184.5" y2="281.7" stroke="#000" stroke-width="1"/>
<rect x="182.5" y="267.8" width="4" height="1.5" fill="#7b7b7b" stroke="#000" stroke-width="1.1"/>
<line x1="190.5" y1="263.0" x2="190.5" y2="286.7" stroke="#000" stroke-width="1"/>
<rect x="188.5" y="268.3" width="4" height="17.2" fill="#7b7b7b" stroke="#000" stroke-width="1.1"/>
<line x1="196.5" y1="221.7" x2="196.5" y2="243.3" stroke="#000" stroke-width="1"/>
<rect x="194.5" y="237.5" width="4" height="5.8" fill="#7b7b7b" stroke="#000" stroke-width="1.1"/>
<line x1="202.5" y1="219.2" x2="202.5" y2="251.7" stroke="#000" stroke-width="1"/>
<rect x="200.5" y="242.2" width="4" height="9.5" fill="#7b7b7b" stroke="#000" stroke-width="1.1"/>
<line x1="208.5" y1="257.5" x2="208.5" y2="345.8" stroke="#000" stroke-width="1"/>
<rect x="206.5" y="261.3" width="4" height="72.9" fill="#7b7b7b" stroke="#000" stroke-width="1.1"/>
<line x1="214.5" y1="328.3" x2="214.5" y2="457.5" stroke="#000" stroke-width="1"/>
<rect x="212.5" y="334.2" width="4" height="87.8" fill="#7b7b7b" stroke="#000" stroke-width="1.1"/>
<line x1="220.5" y1="442.5" x2="220.5" y2="508.3" stroke="#000" stroke-width="1"/>
<rect x="218.5" y="448.3" width="4" height="58.0" fill="#7b7b7b" stroke="#000" stroke-width="1.1"/>
<line x1="226.5" y1="409.2" x2="226.5" y2="566.7" stroke="#000" stroke-width="1"/>
<rect x="224.5" y="413.3" width="4" height="90.0" fill="#fff" stroke="#000" stroke-width="1.1"/>
<line x1="232.5" y1="401.3" x2="232.5" y2="492.5" stroke="#000" stroke-width="1"/>
<rect x="230.5" y="407.2" width="4" height="57.0" fill="#7b7b7b" stroke="#000" stroke-width="1.1"/>
<line x1="238.5" y1="431.3" x2="238.5" y2="478.3" stroke="#000" stroke-width="1"/>
<rect x="236.5" y="439.5" width="4" height="25.8" fill="#fff" stroke="#000" stroke-width="1.1"/>
<line x1="244.5" y1="427.0" x2="244.5" y2="449.7" stroke="#000" stroke-width="1"/>
<rect x="242.5" y="437.0" width="4" height="1.5" fill="#7b7b7b" stroke="#000" stroke-width="1.1"/>
<line x1="250.5" y1="422.2" x2="250.5" y2="469.7" stroke="#000" stroke-width="1"/>
<rect x="248.5" y="429.5" width="4" height="8.8" fill="#fff" stroke="#000" stroke-width="1.1"/>
<line x1="256.5" y1="383.0" x2="256.5" y2="429.5" stroke="#000" stroke-width="1"/>
<rect x="254.5" y="393.3" width="4" height="36.2" fill="#fff" stroke="#000" stroke-width="1.1"/>
<line x1="262.5" y1="380.0" x2="262.5" y2="412.5" stroke="#000" stroke-width="1"/>
<rect x="260.5" y="397.5" width="4" height="15.0" fill="#fff" stroke="#000" stroke-width="1.1"/>
<line x1="268.5" y1="370.0" x2="268.5" y2="436.7" stroke="#000" stroke-width="1"/>
<rect x="266.5" y="391.3" width="4" height="32.0" fill="#7b7b7b" stroke="#000" stroke-width="1.1"/>
<line x1="274.5" y1="401.3" x2="274.5" y2="426.7" stroke="#000" stroke-width="1"/>
<rect x="272.5" y="413.3" width="4" height="9.2" fill="#fff" stroke="#000" stroke-width="1.1"/>
<line x1="280.5" y1="400.0" x2="280.5" y2="430.8" stroke="#000" stroke-width="1"/>
<rect x="278.5" y="404.2" width="4" height="7.1" fill="#fff" stroke="#000" stroke-width="1.1"/>
<line x1="286.5" y1="427.5" x2="286.5" y2="466.3" stroke="#000" stroke-width="1"/>
<rect x="284.5" y="428.3" width="4" height="38.0" fill="#7b7b7b" stroke="#000" stroke-width="1.1"/>
<line x1="292.5" y1="460.0" x2="292.5" y2="509.5" stroke="#000" stroke-width="1"/>
<rect x="290.5" y="465.3" width="4" height="40.0" fill="#7b7b7b" stroke="#000" stroke-width="1.1"/>
<line x1="298.5" y1="479.2" x2="298.5" y2="540.4" stroke="#000" stroke-width="1"/>
<rect x="296.5" y="490.5" width="4" height="14.0" fill="#fff" stroke="#000" stroke-width="1.1"/>
<line x1="304.5" y1="472.0" x2="304.5" y2="513.4" stroke="#000" stroke-width="1"/>
<rect x="302.5" y="490.3" width="4" height="12.0" fill="#7b7b7b" stroke="#000" stroke-width="1.1"/>
<line x1="310.5" y1="472.0" x2="310.5" y2="527.4" stroke="#000" stroke-width="1"/>
<rect x="308.5" y="489.4" width="4" height="38.0" fill="#fff" stroke="#000" stroke-width="1.1"/>
<line x1="316.5" y1="464.2" x2="316.5" y2="511.3" stroke="#000" stroke-width="1"/>
<rect x="314.5" y="485.1" width="4" height="26.2" fill="#7b7b7b" stroke="#000" stroke-width="1.1"/>
<line x1="322.5" y1="463.3" x2="322.5" y2="513.3" stroke="#000" stroke-width="1"/>
<rect x="320.5" y="464.2" width="4" height="47.3" fill="#fff" stroke="#000" stroke-width="1.1"/>
<line x1="328.5" y1="439.2" x2="328.5" y2="470.0" stroke="#000" stroke-width="1"/>
<rect x="326.5" y="448.3" width="4" height="16.4" fill="#fff" stroke="#000" stroke-width="1.1"/>
<line x1="334.5" y1="389.2" x2="334.5" y2="434.2" stroke="#000" stroke-width="1"/>
<rect x="332.5" y="395.0" width="4" height="35.8" fill="#fff" stroke="#000" stroke-width="1.1"/>
<line x1="340.5" y1="394.2" x2="340.5" y2="411.3" stroke="#000" stroke-width="1"/>
<rect x="338.5" y="395.0" width="4" height="16.3" fill="#7b7b7b" stroke="#000" stroke-width="1.1"/>
<line x1="346.5" y1="409.2" x2="346.5" y2="465.8" stroke="#000" stroke-width="1"/>
<rect x="344.5" y="411.3" width="4" height="33.4" fill="#7b7b7b" stroke="#000" stroke-width="1.1"/>
<line x1="352.5" y1="424.2" x2="352.5" y2="451.7" stroke="#000" stroke-width="1"/>
<rect x="350.5" y="430.3" width="4" height="14.4" fill="#fff" stroke="#000" stroke-width="1.1"/>
<line x1="358.5" y1="415.0" x2="358.5" y2="436.7" stroke="#000" stroke-width="1"/>
<rect x="356.5" y="423.3" width="4" height="3.0" fill="#fff" stroke="#000" stroke-width="1.1"/>
<line x1="364.5" y1="384.2" x2="364.5" y2="442.5" stroke="#000" stroke-width="1"/>
<rect x="362.5" y="423.3" width="4" height="19.2" fill="#7b7b7b" stroke="#000" stroke-width="1.1"/>
<line x1="370.5" y1="433.3" x2="370.5" y2="462.5" stroke="#000" stroke-width="1"/>
<rect x="368.5" y="442.2" width="4" height="11.1" fill="#7b7b7b" stroke="#000" stroke-width="1.1"/>
<line x1="376.5" y1="431.7" x2="376.5" y2="466.7" stroke="#000" stroke-width="1"/>
<rect x="374.5" y="434.7" width="4" height="18.6" fill="#fff" stroke="#000" stroke-width="1.1"/>
<line x1="382.5" y1="417.5" x2="382.5" y2="449.7" stroke="#000" stroke-width="1"/>
<rect x="380.5" y="431.3" width="4" height="15.0" fill="#fff" stroke="#000" stroke-width="1.1"/>
<line x1="388.5" y1="405.8" x2="388.5" y2="455.8" stroke="#000" stroke-width="1"/>
<rect x="386.5" y="430.3" width="4" height="21.0" fill="#7b7b7b" stroke="#000" stroke-width="1.1"/>
<line x1="394.5" y1="434.2" x2="394.5" y2="462.0" stroke="#000" stroke-width="1"/>
<rect x="392.5" y="451.3" width="4" height="3.0" fill="#7b7b7b" stroke="#000" stroke-width="1.1"/>
<line x1="400.5" y1="390.0" x2="400.5" y2="418.7" stroke="#000" stroke-width="1"/>
<rect x="398.5" y="401.3" width="4" height="7.0" fill="#fff" stroke="#000" stroke-width="1.1"/>
<line x1="406.5" y1="388.0" x2="406.5" y2="422.5" stroke="#000" stroke-width="1"/>
<rect x="404.5" y="400.3" width="4" height="13.4" fill="#7b7b7b" stroke="#000" stroke-width="1.1"/>
<line x1="412.5" y1="388.0" x2="412.5" y2="414.7" stroke="#000" stroke-width="1"/>
<rect x="410.5" y="403.3" width="4" height="11.4" fill="#fff" stroke="#000" stroke-width="1.1"/>
<line x1="418.5" y1="371.7" x2="418.5" y2="409.7" stroke="#000" stroke-width="1"/>
<rect x="416.5" y="372.0" width="4" height="32.7" fill="#fff" stroke="#000" stroke-width="1.1"/>
<line x1="424.5" y1="340.8" x2="424.5" y2="373.3" stroke="#000" stroke-width="1"/>
<rect x="422.5" y="359.2" width="4" height="14.1" fill="#7b7b7b" stroke="#000" stroke-width="1.1"/>
<line x1="430.5" y1="298.3" x2="430.5" y2="373.3" stroke="#000" stroke-width="1"/>
<rect x="428.5" y="300.8" width="4" height="70.9" fill="#fff" stroke="#000" stroke-width="1.1"/>
<line x1="436.5" y1="285.4" x2="436.5" y2="330.8" stroke="#000" stroke-width="1"/>
<rect x="434.5" y="288.5" width="4" height="1.8" fill="#fff" stroke="#000" stroke-width="1.1"/>
<line x1="442.5" y1="110.0" x2="442.5" y2="293.5" stroke="#000" stroke-width="1"/>
<rect x="440.5" y="205.3" width="4" height="87.5" fill="#fff" stroke="#000" stroke-width="1.1"/>
<line x1="448.5" y1="186.0" x2="448.5" y2="273.5" stroke="#000" stroke-width="1"/>
<rect x="446.5" y="188.1" width="4" height="85.4" fill="#fff" stroke="#000" stroke-width="1.1"/>
<line x1="454.5" y1="178.1" x2="454.5" y2="236.9" stroke="#000" stroke-width="1"/>
<rect x="452.5" y="192.3" width="4" height="10.0" fill="#7b7b7b" stroke="#000" stroke-width="1.1"/>
<line x1="460.5" y1="178.1" x2="460.5" y2="215.6" stroke="#000" stroke-width="1"/>
<rect x="458.5" y="184.4" width="4" height="16.0" fill="#fff" stroke="#000" stroke-width="1.1"/>
<line x1="466.5" y1="311.3" x2="466.5" y2="385.8" stroke="#000" stroke-width="1"/>
<rect x="464.5" y="311.3" width="4" height="56.2" fill="#7b7b7b" stroke="#000" stroke-width="1.1"/>
<line x1="472.5" y1="345.8" x2="472.5" y2="374.2" stroke="#000" stroke-width="1"/>
<rect x="470.5" y="362.5" width="4" height="7.2" fill="#7b7b7b" stroke="#000" stroke-width="1.1"/>
<line x1="478.5" y1="338.0" x2="478.5" y2="372.5" stroke="#000" stroke-width="1"/>
<rect x="476.5" y="363.3" width="4" height="3.0" fill="#fff" stroke="#000" stroke-width="1.1"/>
<line x1="484.5" y1="345.0" x2="484.5" y2="369.7" stroke="#000" stroke-width="1"/>
<rect x="482.5" y="358.3" width="4" height="8.0" fill="#7b7b7b" stroke="#000" stroke-width="1.1"/>
<line x1="490.5" y1="347.0" x2="490.5" y2="371.7" stroke="#000" stroke-width="1"/>
<rect x="488.5" y="356.3" width="4" height="12.0" fill="#fff" stroke="#000" stroke-width="1.1"/>
<line x1="496.5" y1="314.2" x2="496.5" y2="360.8" stroke="#000" stroke-width="1"/>
<rect x="494.5" y="316.3" width="4" height="40.0" fill="#fff" stroke="#000" stroke-width="1.1"/>
<line x1="502.5" y1="314.2" x2="502.5" y2="334.7" stroke="#000" stroke-width="1"/>
<rect x="500.5" y="318.3" width="4" height="5.4" fill="#7b7b7b" stroke="#000" stroke-width="1.1"/>
<line x1="508.5" y1="299.2" x2="508.5" y2="354.7" stroke="#000" stroke-width="1"/>
<rect x="506.5" y="308.3" width="4" height="43.4" fill="#fff" stroke="#000" stroke-width="1.1"/>
<line x1="514.5" y1="286.7" x2="514.5" y2="317.5" stroke="#000" stroke-width="1"/>
<rect x="512.5" y="302.5" width="4" height="5.0" fill="#fff" stroke="#000" stroke-width="1.1"/>
<line x1="520.5" y1="286.7" x2="520.5" y2="310.8" stroke="#000" stroke-width="1"/>
<rect x="518.5" y="300.3" width="4" height="4.4" fill="#fff" stroke="#000" stroke-width="1.1"/>
<line x1="526.5" y1="293.3" x2="526.5" y2="335.8" stroke="#000" stroke-width="1"/>
<rect x="524.5" y="301.3" width="4" height="27.9" fill="#7b7b7b" stroke="#000" stroke-width="1.1"/>
<line x1="532.5" y1="290.8" x2="532.5" y2="334.7" stroke="#000" stroke-width="1"/>
<rect x="530.5" y="292.0" width="4" height="35.5" fill="#fff" stroke="#000" stroke-width="1.1"/>
<line x1="538.5" y1="323.0" x2="538.5" y2="340.8" stroke="#000" stroke-width="1"/>
<rect x="536.5" y="329.2" width="4" height="4.1" fill="#7b7b7b" stroke="#000" stroke-width="1.1"/>
<line x1="544.5" y1="326.3" x2="544.5" y2="356.7" stroke="#000" stroke-width="1"/>
<rect x="542.5" y="331.3" width="4" height="3.4" fill="#7b7b7b" stroke="#000" stroke-width="1.1"/>
<line x1="550.5" y1="325.8" x2="550.5" y2="338.3" stroke="#000" stroke-width="1"/>
<rect x="548.5" y="334.2" width="4" height="4.1" fill="#7b7b7b" stroke="#000" stroke-width="1.1"/>
<line x1="556.5" y1="349.7" x2="556.5" y2="368.7" stroke="#000" stroke-width="1"/>
<rect x="554.5" y="351.3" width="4" height="7.0" fill="#7b7b7b" stroke="#000" stroke-width="1.1"/>
<line x1="562.5" y1="350.0" x2="562.5" y2="371.7" stroke="#000" stroke-width="1"/>
<rect x="560.5" y="356.0" width="4" height="2.3" fill="#7b7b7b" stroke="#000" stroke-width="1.1"/>
<line x1="568.5" y1="338.0" x2="568.5" y2="358.3" stroke="#000" stroke-width="1"/>
<rect x="566.5" y="343.3" width="4" height="15.0" fill="#fff" stroke="#000" stroke-width="1.1"/>
<line x1="574.5" y1="331.3" x2="574.5" y2="365.3" stroke="#000" stroke-width="1"/>
<rect x="572.5" y="343.3" width="4" height="22.0" fill="#7b7b7b" stroke="#000" stroke-width="1.1"/>
<line x1="580.5" y1="269.2" x2="580.5" y2="334.7" stroke="#000" stroke-width="1"/>
<rect x="578.5" y="280.0" width="4" height="45.8" fill="#fff" stroke="#000" stroke-width="1.1"/>
<line x1="586.5" y1="254.2" x2="586.5" y2="295.8" stroke="#000" stroke-width="1"/>
<rect x="584.5" y="258.3" width="4" height="20.0" fill="#fff" stroke="#000" stroke-width="1.1"/>
<line x1="592.5" y1="256.3" x2="592.5" y2="293.7" stroke="#000" stroke-width="1"/>
<rect x="590.5" y="258.3" width="4" height="20.0" fill="#7b7b7b" stroke="#000" stroke-width="1.1"/>
<line x1="598.5" y1="273.3" x2="598.5" y2="323.3" stroke="#000" stroke-width="1"/>
<rect x="596.5" y="278.3" width="4" height="42.0" fill="#7b7b7b" stroke="#000" stroke-width="1.1"/>
<line x1="604.5" y1="338.3" x2="604.5" y2="365.3" stroke="#000" stroke-width="1"/>
<rect x="602.5" y="342.5" width="4" height="21.2" fill="#7b7b7b" stroke="#000" stroke-width="1.1"/>
<line x1="610.5" y1="331.3" x2="610.5" y2="393.3" stroke="#000" stroke-width="1"/>
<rect x="608.5" y="363.3" width="4" height="18.4" fill="#7b7b7b" stroke="#000" stroke-width="1.1"/>
<line x1="616.5" y1="364.2" x2="616.5" y2="391.7" stroke="#000" stroke-width="1"/>
<rect x="614.5" y="379.2" width="4" height="11.1" fill="#7b7b7b" stroke="#000" stroke-width="1.1"/>
<line x1="622.5" y1="375.0" x2="622.5" y2="411.7" stroke="#000" stroke-width="1"/>
<rect x="620.5" y="390.0" width="4" height="10.3" fill="#7b7b7b" stroke="#000" stroke-width="1.1"/>
<line x1="628.5" y1="380.0" x2="628.5" y2="405.3" stroke="#000" stroke-width="1"/>
<rect x="626.5" y="387.2" width="4" height="18.1" fill="#7b7b7b" stroke="#000" stroke-width="1.1"/>
<line x1="634.5" y1="399.2" x2="634.5" y2="428.3" stroke="#000" stroke-width="1"/>
<rect x="632.5" y="406.3" width="4" height="6.2" fill="#7b7b7b" stroke="#000" stroke-width="1.1"/>
<line x1="640.5" y1="385.0" x2="640.5" y2="415.8" stroke="#000" stroke-width="1"/>
<rect x="638.5" y="388.3" width="4" height="23.0" fill="#fff" stroke="#000" stroke-width="1.1"/>
<line x1="646.5" y1="384.2" x2="646.5" y2="412.5" stroke="#000" stroke-width="1"/>
<rect x="644.5" y="388.3" width="4" height="15.9" fill="#7b7b7b" stroke="#000" stroke-width="1.1"/>
<line x1="652.5" y1="413.3" x2="652.5" y2="433.7" stroke="#000" stroke-width="1"/>
<rect x="650.5" y="416.3" width="4" height="12.0" fill="#7b7b7b" stroke="#000" stroke-width="1.1"/>
<line x1="658.5" y1="407.5" x2="658.5" y2="430.8" stroke="#000" stroke-width="1"/>
<rect x="656.5" y="410.3" width="4" height="18.0" fill="#fff" stroke="#000" stroke-width="1.1"/>
<line x1="664.5" y1="393.3" x2="664.5" y2="416.7" stroke="#000" stroke-width="1"/>
<rect x="662.5" y="397.5" width="4" height="12.8" fill="#fff" stroke="#000" stroke-width="1.1"/>
<line x1="670.5" y1="388.3" x2="670.5" y2="400.8" stroke="#000" stroke-width="1"/>
<rect x="668.5" y="391.3" width="4" height="6.2" fill="#fff" stroke="#000" stroke-width="1.1"/>
<line x1="676.5" y1="370.8" x2="676.5" y2="403.7" stroke="#000" stroke-width="1"/>
<rect x="674.5" y="371.3" width="4" height="30.7" fill="#7b7b7b" stroke="#000" stroke-width="1.1"/>
<line x1="682.5" y1="382.5" x2="682.5" y2="407.5" stroke="#000" stroke-width="1"/>
<rect x="680.5" y="390.3" width="4" height="11.4" fill="#fff" stroke="#000" stroke-width="1.1"/>
<line x1="688.5" y1="372.5" x2="688.5" y2="399.2" stroke="#000" stroke-width="1"/>
<rect x="686.5" y="380.3" width="4" height="9.2" fill="#fff" stroke="#000" stroke-width="1.1"/>
<line x1="694.5" y1="375.0" x2="694.5" y2="388.3" stroke="#000" stroke-width="1"/>
<rect x="692.5" y="381.7" width="4" height="5.8" fill="#7b7b7b" stroke="#000" stroke-width="1.1"/>
<line x1="700.5" y1="352.5" x2="700.5" y2="391.3" stroke="#000" stroke-width="1"/>
<rect x="698.5" y="354.2" width="4" height="37.1" fill="#7b7b7b" stroke="#000" stroke-width="1.1"/>
<line x1="706.5" y1="390.0" x2="706.5" y2="412.5" stroke="#000" stroke-width="1"/>
<rect x="704.5" y="390.3" width="4" height="10.0" fill="#7b7b7b" stroke="#000" stroke-width="1.1"/>
<line x1="712.5" y1="397.5" x2="712.5" y2="436.7" stroke="#000" stroke-width="1"/>
<rect x="710.5" y="400.3" width="4" height="28.0" fill="#7b7b7b" stroke="#000" stroke-width="1.1"/>
<line x1="718.5" y1="393.0" x2="718.5" y2="419.7" stroke="#000" stroke-width="1"/>
<rect x="716.5" y="412.5" width="4" height="7.2" fill="#fff" stroke="#000" stroke-width="1.1"/>
<line x1="724.5" y1="385.0" x2="724.5" y2="412.5" stroke="#000" stroke-width="1"/>
<rect x="722.5" y="392.5" width="4" height="20.0" fill="#fff" stroke="#000" stroke-width="1.1"/>
<line x1="730.5" y1="391.3" x2="730.5" y2="423.3" stroke="#000" stroke-width="1"/>
<rect x="728.5" y="391.3" width="4" height="32.0" fill="#7b7b7b" stroke="#000" stroke-width="1.1"/>
<line x1="736.5" y1="387.0" x2="736.5" y2="433.3" stroke="#000" stroke-width="1"/>
<rect x="734.5" y="415.3" width="4" height="7.2" fill="#fff" stroke="#000" stroke-width="1.1"/>
<line x1="742.5" y1="371.3" x2="742.5" y2="408.3" stroke="#000" stroke-width="1"/>
<rect x="740.5" y="376.3" width="4" height="25.4" fill="#fff" stroke="#000" stroke-width="1.1"/>
<line x1="748.5" y1="373.3" x2="748.5" y2="392.5" stroke="#000" stroke-width="1"/>
<rect x="746.5" y="375.3" width="4" height="12.2" fill="#7b7b7b" stroke="#000" stroke-width="1.1"/>
<line x1="754.5" y1="383.0" x2="754.5" y2="405.8" stroke="#000" stroke-width="1"/>
<rect x="752.5" y="393.3" width="4" height="8.4" fill="#7b7b7b" stroke="#000" stroke-width="1.1"/>
<line x1="760.5" y1="400.0" x2="760.5" y2="422.5" stroke="#000" stroke-width="1"/>
<rect x="758.5" y="401.3" width="4" height="19.5" fill="#7b7b7b" stroke="#000" stroke-width="1.1"/>
<line x1="766.5" y1="389.2" x2="766.5" y2="429.7" stroke="#000" stroke-width="1"/>
<rect x="764.5" y="394.5" width="4" height="26.8" fill="#fff" stroke="#000" stroke-width="1.1"/>
<line x1="772.5" y1="365.0" x2="772.5" y2="401.7" stroke="#000" stroke-width="1"/>
<rect x="770.5" y="370.3" width="4" height="24.4" fill="#fff" stroke="#000" stroke-width="1.1"/>
<line x1="778.5" y1="359.7" x2="778.5" y2="384.7" stroke="#000" stroke-width="1"/>
<rect x="776.5" y="362.5" width="4" height="7.8" fill="#fff" stroke="#000" stroke-width="1.1"/>
<line x1="784.5" y1="336.7" x2="784.5" y2="373.0" stroke="#000" stroke-width="1"/>
<rect x="782.5" y="362.5" width="4" height="1.5" fill="#7b7b7b" stroke="#000" stroke-width="1.1"/>
<line x1="790.5" y1="402.5" x2="790.5" y2="426.7" stroke="#000" stroke-width="1"/>
<rect x="788.5" y="404.7" width="4" height="14.5" fill="#7b7b7b" stroke="#000" stroke-width="1.1"/>
<line x1="796.5" y1="409.2" x2="796.5" y2="438.3" stroke="#000" stroke-width="1"/>
<rect x="794.5" y="418.7" width="4" height="13.8" fill="#7b7b7b" stroke="#000" stroke-width="1.1"/>
<line x1="802.5" y1="416.3" x2="802.5" y2="459.2" stroke="#000" stroke-width="1"/>
<rect x="800.5" y="432.5" width="4" height="21.7" fill="#7b7b7b" stroke="#000" stroke-width="1.1"/>
<line x1="808.5" y1="440.0" x2="808.5" y2="455.8" stroke="#000" stroke-width="1"/>
<rect x="806.5" y="454.0" width="4" height="1.5" fill="#7b7b7b" stroke="#000" stroke-width="1.1"/>
<line x1="814.5" y1="425.8" x2="814.5" y2="452.5" stroke="#000" stroke-width="1"/>
<rect x="812.5" y="427.0" width="4" height="6.3" fill="#fff" stroke="#000" stroke-width="1.1"/>
<line x1="820.5" y1="409.2" x2="820.5" y2="426.3" stroke="#000" stroke-width="1"/>
<rect x="818.5" y="421.3" width="4" height="5.0" fill="#fff" stroke="#000" stroke-width="1.1"/>
<line x1="826.5" y1="410.0" x2="826.5" y2="442.5" stroke="#000" stroke-width="1"/>
<rect x="824.5" y="421.3" width="4" height="16.2" fill="#7b7b7b" stroke="#000" stroke-width="1.1"/>
<line x1="832.5" y1="434.7" x2="832.5" y2="504.2" stroke="#000" stroke-width="1"/>
<rect x="830.5" y="438.3" width="4" height="65.9" fill="#7b7b7b" stroke="#000" stroke-width="1.1"/>
<line x1="838.5" y1="472.5" x2="838.5" y2="514.7" stroke="#000" stroke-width="1"/>
<rect x="836.5" y="477.5" width="4" height="20.0" fill="#7b7b7b" stroke="#000" stroke-width="1.1"/>
<line x1="844.5" y1="480.0" x2="844.5" y2="503.3" stroke="#000" stroke-width="1"/>
<rect x="842.5" y="493.3" width="4" height="4.2" fill="#fff" stroke="#000" stroke-width="1.1"/>
<line x1="850.5" y1="486.3" x2="850.5" y2="521.3" stroke="#000" stroke-width="1"/>
<rect x="848.5" y="493.3" width="4" height="28.0" fill="#7b7b7b" stroke="#000" stroke-width="1.1"/>
<line x1="856.5" y1="523.3" x2="856.5" y2="545.8" stroke="#000" stroke-width="1"/>
<rect x="854.5" y="524.2" width="4" height="5.5" fill="#fff" stroke="#000" stroke-width="1.1"/>
<line x1="862.5" y1="507.0" x2="862.5" y2="541.7" stroke="#000" stroke-width="1"/>
<rect x="860.5" y="518.7" width="4" height="11.8" fill="#fff" stroke="#000" stroke-width="1.1"/>
<line x1="868.5" y1="472.5" x2="868.5" y2="521.3" stroke="#000" stroke-width="1"/>
<rect x="866.5" y="481.3" width="4" height="36.2" fill="#fff" stroke="#000" stroke-width="1.1"/>
<line x1="874.5" y1="423.3" x2="874.5" y2="474.7" stroke="#000" stroke-width="1"/>
<rect x="872.5" y="433.3" width="4" height="35.9" fill="#fff" stroke="#000" stroke-width="1.1"/>
<line x1="880.5" y1="415.0" x2="880.5" y2="442.5" stroke="#000" stroke-width="1"/>
<rect x="878.5" y="432.5" width="4" height="6.7" fill="#7b7b7b" stroke="#000" stroke-width="1.1"/>
<line x1="886.5" y1="438.0" x2="886.5" y2="473.0" stroke="#000" stroke-width="1"/>
<rect x="884.5" y="438.3" width="4" height="26.7" fill="#7b7b7b" stroke="#000" stroke-width="1.1"/>
<line x1="892.5" y1="446.7" x2="892.5" y2="473.0" stroke="#000" stroke-width="1"/>
<rect x="890.5" y="461.3" width="4" height="3.4" fill="#fff" stroke="#000" stroke-width="1.1"/>
<line x1="898.5" y1="452.0" x2="898.5" y2="474.7" stroke="#000" stroke-width="1"/>
<rect x="896.5" y="460.0" width="4" height="2.5" fill="#fff" stroke="#000" stroke-width="1.1"/>
<line x1="904.5" y1="440.0" x2="904.5" y2="467.5" stroke="#000" stroke-width="1"/>
<rect x="902.5" y="450.0" width="4" height="12.5" fill="#fff" stroke="#000" stroke-width="1.1"/>
<line x1="910.5" y1="447.5" x2="910.5" y2="468.3" stroke="#000" stroke-width="1"/>
<rect x="908.5" y="447.5" width="4" height="12.8" fill="#7b7b7b" stroke="#000" stroke-width="1.1"/>
<line x1="916.5" y1="445.8" x2="916.5" y2="477.5" stroke="#000" stroke-width="1"/>
<rect x="914.5" y="459.2" width="4" height="17.5" fill="#7b7b7b" stroke="#000" stroke-width="1.1"/>
<line x1="922.5" y1="458.3" x2="922.5" y2="491.7" stroke="#000" stroke-width="1"/>
<rect x="920.5" y="475.3" width="4" height="3.0" fill="#7b7b7b" stroke="#000" stroke-width="1.1"/>
<line x1="928.5" y1="459.2" x2="928.5" y2="481.7" stroke="#000" stroke-width="1"/>
<rect x="926.5" y="472.5" width="4" height="2.8" fill="#fff" stroke="#000" stroke-width="1.1"/>
<line x1="934.5" y1="442.5" x2="934.5" y2="474.7" stroke="#000" stroke-width="1"/>
<rect x="932.5" y="447.5" width="4" height="20.0" fill="#fff" stroke="#000" stroke-width="1.1"/>
<line x1="940.5" y1="446.7" x2="940.5" y2="502.5" stroke="#000" stroke-width="1"/>
<rect x="938.5" y="447.5" width="4" height="52.2" fill="#7b7b7b" stroke="#000" stroke-width="1.1"/>
<line x1="946.5" y1="484.2" x2="946.5" y2="505.3" stroke="#000" stroke-width="1"/>
<rect x="944.5" y="497.5" width="4" height="2.2" fill="#fff" stroke="#000" stroke-width="1.1"/>
<line x1="952.5" y1="455.0" x2="952.5" y2="494.7" stroke="#000" stroke-width="1"/>
<rect x="950.5" y="469.7" width="4" height="25.0" fill="#fff" stroke="#000" stroke-width="1.1"/>
<line x1="958.5" y1="450.8" x2="958.5" y2="482.5" stroke="#000" stroke-width="1"/>
<rect x="956.5" y="457.5" width="4" height="17.2" fill="#fff" stroke="#000" stroke-width="1.1"/>
<line x1="964.5" y1="454.2" x2="964.5" y2="495.0" stroke="#000" stroke-width="1"/>
<rect x="962.5" y="458.3" width="4" height="22.0" fill="#7b7b7b" stroke="#000" stroke-width="1.1"/>
<line x1="970.5" y1="465.8" x2="970.5" y2="496.7" stroke="#000" stroke-width="1"/>
<rect x="968.5" y="480.3" width="4" height="14.4" fill="#7b7b7b" stroke="#000" stroke-width="1.1"/>
<line x1="976.5" y1="493.3" x2="976.5" y2="520.3" stroke="#000" stroke-width="1"/>
<rect x="974.5" y="493.7" width="4" height="16.0" fill="#7b7b7b" stroke="#000" stroke-width="1.1"/>
<line x1="982.5" y1="489.2" x2="982.5" y2="526.7" stroke="#000" stroke-width="1"/>
<rect x="980.5" y="491.3" width="4" height="15.0" fill="#7b7b7b" stroke="#000" stroke-width="1.1"/>
<line x1="988.5" y1="494.2" x2="988.5" y2="516.7" stroke="#000" stroke-width="1"/>
<rect x="986.5" y="497.5" width="4" height="10.8" fill="#fff" stroke="#000" stroke-width="1.1"/>
<line x1="994.5" y1="475.0" x2="994.5" y2="502.5" stroke="#000" stroke-width="1"/>
<rect x="992.5" y="497.5" width="4" height="2.2" fill="#7b7b7b" stroke="#000" stroke-width="1.1"/>
<line x1="1000.5" y1="475.8" x2="1000.5" y2="502.5" stroke="#000" stroke-width="1"/>
<rect x="998.5" y="478.3" width="4" height="19.2" fill="#7b7b7b" stroke="#000" stroke-width="1.1"/>
<line x1="1006.5" y1="475.0" x2="1006.5" y2="500.8" stroke="#000" stroke-width="1"/>
<rect x="1004.5" y="486.3" width="4" height="10.0" fill="#fff" stroke="#000" stroke-width="1.1"/>
<line x1="1012.5" y1="468.3" x2="1012.5" y2="491.7" stroke="#000" stroke-width="1"/>
<rect x="1010.5" y="474.2" width="4" height="13.3" fill="#fff" stroke="#000" stroke-width="1.1"/>
<line x1="1018.5" y1="458.3" x2="1018.5" y2="479.7" stroke="#000" stroke-width="1"/>
<rect x="1016.5" y="465.0" width="4" height="9.2" fill="#fff" stroke="#000" stroke-width="1.1"/>
<line x1="1024.5" y1="485.0" x2="1024.5" y2="505.8" stroke="#000" stroke-width="1"/>
<rect x="1022.5" y="491.3" width="4" height="10.4" fill="#7b7b7b" stroke="#000" stroke-width="1.1"/>
<line x1="1030.5" y1="487.5" x2="1030.5" y2="515.8" stroke="#000" stroke-width="1"/>
<rect x="1028.5" y="489.2" width="4" height="12.5" fill="#fff" stroke="#000" stroke-width="1.1"/>
<line x1="1036.5" y1="490.0" x2="1036.5" y2="528.3" stroke="#000" stroke-width="1"/>
<rect x="1034.5" y="490.3" width="4" height="21.0" fill="#7b7b7b" stroke="#000" stroke-width="1.1"/>
<line x1="1042.5" y1="505.0" x2="1042.5" y2="525.0" stroke="#000" stroke-width="1"/>
<rect x="1040.5" y="511.3" width="4" height="8.4" fill="#7b7b7b" stroke="#000" stroke-width="1.1"/>
<line x1="1048.5" y1="535.8" x2="1048.5" y2="569.2" stroke="#000" stroke-width="1"/>
<rect x="1046.5" y="536.3" width="4" height="31.2" fill="#7b7b7b" stroke="#000" stroke-width="1.1"/>
<line x1="1054.5" y1="530.0" x2="1054.5" y2="565.3" stroke="#000" stroke-width="1"/>
<rect x="1052.5" y="530.8" width="4" height="34.5" fill="#fff" stroke="#000" stroke-width="1.1"/>
<line x1="1060.5" y1="532.5" x2="1060.5" y2="554.2" stroke="#000" stroke-width="1"/>
<rect x="1058.5" y="534.2" width="4" height="18.3" fill="#7b7b7b" stroke="#000" stroke-width="1.1"/>
<line x1="1066.5" y1="535.0" x2="1066.5" y2="557.0" stroke="#000" stroke-width="1"/>
<rect x="1064.5" y="539.2" width="4" height="13.3" fill="#fff" stroke="#000" stroke-width="1.1"/>
<line x1="1072.5" y1="497.5" x2="1072.5" y2="513.3" stroke="#000" stroke-width="1"/>
<rect x="1070.5" y="499.5" width="4" height="10.7" fill="#fff" stroke="#000" stroke-width="1.1"/>
<line x1="1078.5" y1="494.2" x2="1078.5" y2="505.8" stroke="#000" stroke-width="1"/>
<rect x="1076.5" y="499.3" width="4" height="2.1" fill="#7b7b7b" stroke="#000" stroke-width="1.1"/>
<line x1="1084.5" y1="491.3" x2="1084.5" y2="535.5" stroke="#000" stroke-width="1"/>
<rect x="1082.5" y="502.4" width="4" height="29.1" fill="#7b7b7b" stroke="#000" stroke-width="1.1"/>
<line x1="1090.5" y1="499.0" x2="1090.5" y2="516.7" stroke="#000" stroke-width="1"/>
<rect x="1088.5" y="510.8" width="4" height="2.5" fill="#fff" stroke="#000" stroke-width="1.1"/>
<line x1="1096.5" y1="498.0" x2="1096.5" y2="524.3" stroke="#000" stroke-width="1"/>
<rect x="1094.5" y="510.3" width="4" height="11.0" fill="#7b7b7b" stroke="#000" stroke-width="1.1"/>
<path d="M0.0,63.3 C1.4,64.4 4.7,68.3 8.3,70.0 C11.9,71.7 17.0,73.4 21.7,73.7 C26.4,74.0 32.0,72.3 36.7,71.7 C41.4,71.1 46.7,69.7 50.0,70.0 C53.3,70.3 54.5,70.8 56.7,73.3 C58.9,75.8 61.6,80.8 63.3,85.0 C65.0,89.2 65.6,92.8 66.7,98.3 C67.8,103.8 68.3,111.9 70.0,118.3 C71.7,124.7 74.2,130.5 77.1,136.7 C80.0,142.8 83.7,149.4 87.5,155.0 C91.3,160.6 96.2,167.8 100.0,170.0 C103.8,172.2 107.9,168.5 110.0,168.3 C112.1,168.1 110.8,167.6 112.5,168.8 C114.2,169.9 117.5,172.3 120.0,175.0 C122.5,177.7 123.8,182.3 127.5,185.0 C131.2,187.7 138.8,189.6 142.5,191.2 C146.2,192.9 147.1,192.7 150.0,195.0 C152.9,197.3 155.8,199.2 160.0,205.0 C164.2,210.8 171.7,224.4 175.0,230.0 C178.3,235.6 178.9,236.6 180.0,238.3 C181.1,240.0 180.1,237.9 181.7,240.0 C183.3,242.1 187.5,249.9 189.7,250.8 C191.9,251.7 193.0,247.0 194.8,245.3 C196.7,243.6 198.8,241.2 200.8,240.4 C202.8,239.6 204.8,241.6 206.9,240.2 C209.0,238.8 212.0,233.8 213.3,232.1 C214.7,230.4 214.0,234.2 215.0,230.0 C216.0,225.8 217.2,211.9 219.4,206.9 C221.6,201.9 226.2,202.1 228.3,200.0 C230.4,197.9 229.4,196.0 232.1,194.6 C234.8,193.2 238.8,190.6 244.6,191.5 C250.4,192.4 262.5,198.4 266.7,200.0 C270.9,201.6 267.9,199.7 269.6,200.8 C271.3,201.9 275.0,205.3 276.7,206.7 C278.4,208.1 277.8,206.7 280.0,209.2 C282.2,211.7 287.9,219.3 290.0,221.7 C292.1,224.1 290.4,219.6 292.5,223.8 C294.6,227.9 300.1,238.7 302.9,246.7 C305.7,254.7 307.1,261.3 309.2,271.7 C311.3,282.1 313.3,296.7 315.4,309.2 C317.5,321.7 320.4,338.2 321.7,346.7 C323.0,355.2 322.2,355.6 323.3,360.0 C324.4,364.4 325.6,371.8 328.1,373.0 C330.6,374.2 335.2,368.0 338.3,367.5 C341.4,367.0 343.1,370.0 346.7,370.0 C350.3,370.0 356.1,367.5 360.0,367.5 C363.9,367.5 366.9,368.5 370.0,370.0 C373.1,371.5 375.8,374.8 378.3,376.7 C380.8,378.6 382.5,380.1 385.0,381.7 C387.5,383.3 390.8,385.6 393.3,386.3 C395.8,387.0 396.9,387.1 400.0,385.8 C403.1,384.5 408.4,381.5 411.7,378.3 C415.0,375.1 417.8,371.1 420.0,366.7 C422.2,362.3 422.8,358.6 425.0,351.7 C427.2,344.8 431.1,333.6 433.3,325.0 C435.5,316.4 436.4,312.9 438.3,300.0 C440.2,287.1 443.1,261.5 445.0,247.5 C446.9,233.5 448.4,223.8 450.0,216.2 C451.6,208.8 453.4,207.3 454.4,202.5 C455.4,197.7 455.3,192.5 456.2,187.5 C457.2,182.5 457.7,175.3 460.0,172.8 C462.3,170.2 467.1,172.2 470.0,171.9 C472.9,171.7 475.0,171.2 477.5,171.2 C480.0,171.3 482.9,171.9 485.0,172.2 C487.1,172.6 488.3,173.5 490.0,173.4 C491.7,173.4 493.4,172.2 495.0,171.9 C496.6,171.6 497.4,171.2 499.7,171.6 C502.0,171.9 506.4,173.2 508.8,174.0 C511.2,174.8 512.5,176.2 514.4,176.6 C516.3,177.0 517.8,176.0 520.0,176.6 C522.2,177.2 524.4,179.1 527.5,180.0 C530.6,180.9 535.7,181.7 538.8,182.3 C541.9,182.9 543.5,183.2 546.3,183.8 C549.1,184.3 553.2,183.4 555.7,185.6 C558.2,187.8 559.1,190.9 561.3,196.9 C563.5,202.9 566.6,213.5 568.8,221.3 C571.0,229.1 572.5,234.0 574.4,243.8 C576.3,253.5 577.8,277.2 580.0,280.0 C582.2,282.8 585.4,263.8 587.6,260.7 C589.8,257.6 592.1,261.4 593.3,261.7 C594.5,261.9 593.1,262.1 595.0,262.2 C596.9,262.3 601.9,262.7 604.7,262.1 C607.5,261.6 610.3,259.6 612.0,258.8 C613.7,258.0 613.1,258.3 615.0,257.5 C616.9,256.7 621.5,254.7 623.2,254.1 C624.9,253.5 623.3,254.1 625.0,254.2 C626.7,254.3 631.7,254.6 633.3,254.7 C634.9,254.8 633.4,254.0 634.5,254.7 C635.6,255.4 638.2,258.1 640.0,259.0 C641.9,259.9 643.1,258.9 645.4,259.9 C647.6,260.9 650.3,263.3 653.2,264.9 C656.2,266.5 660.5,267.9 663.3,269.2 C666.1,270.4 667.0,271.5 670.0,272.4 C673.1,273.3 677.5,273.7 681.4,274.8 C685.3,275.8 690.5,275.5 693.6,278.5 C696.7,281.5 698.2,285.7 700.1,292.6 C702.0,299.5 703.8,313.8 705.0,320.0 C706.2,326.2 706.8,326.1 707.6,330.0 C708.4,333.9 708.5,337.5 710.0,343.3 C711.5,349.1 714.2,360.1 716.7,365.0 C719.2,369.9 722.0,370.8 725.0,372.5 C728.0,374.2 732.0,375.4 735.0,375.3 C738.0,375.2 740.0,372.6 743.3,371.7 C746.6,370.8 751.1,370.3 755.0,369.7 C758.9,369.1 763.1,369.1 766.7,368.0 C770.3,366.9 773.9,364.9 776.7,363.3 C779.5,361.7 780.8,359.4 783.3,358.3 C785.8,357.2 788.9,357.7 791.7,356.7 C794.5,355.7 797.5,353.4 800.0,352.5 C802.5,351.6 802.5,350.9 806.7,351.3 C810.9,351.7 819.7,356.9 825.0,355.0 C830.3,353.1 833.3,344.0 838.3,340.0 C843.3,336.0 849.7,330.4 855.0,330.8 C860.3,331.2 865.8,339.9 870.0,342.5 C874.2,345.1 877.0,344.1 880.0,346.7 C883.0,349.3 885.8,354.1 888.3,358.3 C890.8,362.5 891.9,364.8 895.0,371.7 C898.1,378.6 902.5,394.0 906.7,400.0 C910.9,406.0 915.6,405.3 920.0,407.5 C924.4,409.7 930.0,411.5 933.3,413.3 C936.6,415.1 937.8,416.4 940.0,418.3 C942.2,420.2 943.4,424.3 946.7,425.0 C950.0,425.7 955.6,422.4 960.0,422.5 C964.4,422.6 969.4,424.7 973.3,425.8 C977.2,426.9 980.8,428.8 983.3,429.2 C985.8,429.6 987.2,428.2 988.3,428.3 C989.4,428.4 988.0,428.1 990.0,430.0 C992.0,431.9 995.5,437.6 1000.0,440.0 C1004.5,442.4 1011.7,442.4 1016.7,444.2 C1021.7,446.0 1025.8,449.7 1030.0,450.8 C1034.2,451.9 1038.7,452.1 1041.7,450.8 C1044.7,449.6 1045.9,443.5 1048.0,443.3 C1050.1,443.1 1051.9,449.2 1054.2,449.7 C1056.5,450.2 1059.6,446.9 1061.7,446.3 C1063.8,445.7 1063.9,444.7 1066.7,446.3 C1069.5,447.9 1074.7,453.5 1078.3,455.8 C1081.9,458.1 1085.3,459.2 1088.3,460.0 C1091.3,460.8 1095.1,460.7 1096.5,460.8" fill="none" stroke="#333" stroke-width="1.1"/>
<path d="M0.0,296.7 C0.8,295.0 3.3,289.9 5.0,286.7 C6.7,283.5 8.3,279.9 10.0,277.5 C11.7,275.1 13.1,273.5 15.0,272.5 C16.9,271.5 19.5,270.9 21.7,271.3 C23.9,271.7 26.4,273.9 28.3,274.7 C30.2,275.5 31.3,275.0 33.3,276.3 C35.2,277.6 37.5,279.9 40.0,282.5 C42.5,285.1 45.2,288.9 48.3,291.7 C51.3,294.5 55.6,298.2 58.3,299.2 C60.9,300.2 62.2,299.1 64.2,297.5 C66.2,295.9 67.9,290.3 70.0,289.5 C72.1,288.7 74.2,291.6 76.7,292.5 C79.2,293.4 82.2,293.9 85.0,294.7 C87.8,295.5 91.1,296.1 93.3,297.5 C95.5,298.9 96.3,299.0 98.3,303.3 C100.2,307.6 102.2,316.6 105.0,323.3 C107.8,330.0 111.1,338.3 115.0,343.3 C118.9,348.3 124.4,350.0 128.3,353.3 C132.2,356.6 135.0,359.9 138.3,363.3 C141.6,366.7 145.0,372.2 148.3,373.7 C151.6,375.2 154.7,373.0 158.3,372.5 C161.9,372.0 166.7,372.1 170.0,370.8 C173.3,369.6 175.5,367.2 178.3,365.0 C181.1,362.8 183.9,358.3 186.7,357.5 C189.5,356.7 193.1,359.4 195.0,360.0 C196.9,360.6 196.2,359.8 198.3,360.8 C200.4,361.8 205.1,362.3 207.5,365.8 C209.9,369.3 210.7,372.9 212.5,381.7 C214.3,390.4 216.4,408.0 218.3,418.3 C220.2,428.6 222.0,435.2 224.2,443.3 C226.4,451.4 229.3,460.9 231.7,466.7 C234.0,472.5 235.2,472.5 238.3,478.3 C241.4,484.1 246.1,496.4 250.0,501.7 C253.9,507.0 258.1,506.9 261.7,510.0 C265.3,513.0 268.6,517.4 271.7,520.0 C274.8,522.6 277.8,523.3 280.0,525.8 C282.2,528.3 283.3,531.7 285.0,535.0 C286.7,538.3 289.0,543.2 290.0,545.8 C291.0,548.4 289.8,548.6 291.2,550.8 C292.7,553.0 296.4,557.1 298.5,559.2 C300.6,561.3 301.9,562.3 303.8,563.3 C305.6,564.3 307.4,566.3 309.5,565.4 C311.6,564.5 314.2,562.8 316.2,558.1 C318.2,553.4 319.5,542.4 321.5,537.3 C323.5,532.2 326.1,528.9 328.2,527.4 C330.3,525.9 332.0,529.4 334.0,528.4 C336.0,527.4 338.1,522.2 340.2,521.1 C342.3,520.0 344.6,522.0 346.5,521.7 C348.4,521.4 348.9,519.8 351.7,519.4 C354.5,519.0 360.0,519.5 363.1,519.6 C366.2,519.7 368.1,520.3 370.4,520.1 C372.7,519.9 374.8,518.8 376.7,518.3 C378.6,517.8 380.5,517.4 381.9,517.3 C383.3,517.2 383.2,517.5 385.0,517.5 C386.8,517.5 389.2,517.6 392.5,517.5 C395.8,517.4 401.7,518.4 405.0,517.1 C408.3,515.8 410.1,511.3 412.3,509.6 C414.6,507.9 416.6,508.2 418.5,506.7 C420.4,505.2 421.8,500.4 423.8,500.4 C425.7,500.4 427.9,506.0 430.0,506.7 C432.1,507.4 434.2,501.8 436.2,504.6 C438.3,507.4 440.1,517.4 442.5,523.8 C444.9,530.1 447.9,537.2 450.8,542.5 C453.8,547.8 457.4,554.7 460.2,555.4 C463.0,556.1 464.2,550.1 467.5,546.7 C470.8,543.3 476.2,539.7 480.0,535.2 C483.8,530.7 486.9,525.5 490.4,519.6 C493.9,513.7 497.0,509.2 500.8,499.8 C504.6,490.4 509.5,472.2 513.3,463.3 C517.1,454.4 520.7,452.2 523.8,446.7 C526.8,441.1 529.0,434.2 531.7,430.0 C534.4,425.8 538.1,423.5 540.0,421.7 C541.9,419.9 540.8,418.4 543.3,419.2 C545.8,420.0 551.9,425.4 555.0,426.7 C558.1,428.0 558.9,428.9 561.7,427.0 C564.5,425.1 569.5,418.1 571.7,415.0 C573.9,411.9 574.2,410.8 575.0,408.3 C575.8,405.8 575.9,403.1 576.7,400.0 C577.5,396.9 578.3,391.5 580.0,390.0 C581.7,388.5 583.4,392.1 586.7,390.8 C590.0,389.6 597.0,383.8 600.0,382.5 C603.0,381.2 603.3,382.3 605.0,383.3 C606.7,384.3 608.3,386.4 610.0,388.3 C611.7,390.2 613.3,393.1 615.0,395.0 C616.7,396.9 616.7,394.4 620.0,400.0 C623.3,405.6 630.5,421.6 635.0,428.3 C639.5,435.0 642.5,435.6 646.7,440.0 C650.9,444.4 655.6,451.1 660.0,455.0 C664.4,458.9 669.1,461.4 673.3,463.3 C677.5,465.2 681.7,465.9 685.0,466.7 C688.3,467.5 690.8,468.7 693.3,468.3 C695.8,467.9 698.0,466.4 700.0,464.2 C702.0,462.0 703.3,458.6 705.0,455.0 C706.7,451.4 708.0,446.4 710.0,442.5 C712.0,438.6 714.5,434.5 716.7,431.7 C718.9,428.9 720.5,426.2 723.3,425.8 C726.1,425.4 728.8,428.5 733.3,429.2 C737.8,429.9 745.5,429.6 750.0,430.0 C754.5,430.4 756.4,431.8 760.0,431.7 C763.6,431.6 767.8,429.3 771.7,429.2 C775.6,429.1 779.7,429.6 783.3,430.8 C786.9,432.1 790.5,434.1 793.3,436.7 C796.1,439.3 797.5,443.5 800.0,446.7 C802.5,449.9 805.5,453.6 808.3,455.8 C811.1,458.0 814.2,459.0 816.7,460.0 C819.2,461.0 821.9,461.0 823.3,461.7 C824.7,462.4 823.9,462.3 825.0,464.2 C826.1,466.1 828.3,469.4 830.0,473.3 C831.7,477.2 832.8,483.1 835.0,487.5 C837.2,491.9 840.8,494.6 843.3,500.0 C845.8,505.4 847.5,513.6 850.0,520.0 C852.5,526.4 855.5,533.7 858.3,538.3 C861.1,542.9 863.9,545.8 866.7,547.5 C869.5,549.2 872.0,548.1 875.0,548.3 C878.0,548.5 881.7,549.5 885.0,548.7 C888.3,547.9 892.0,546.1 895.0,543.3 C898.0,540.5 898.6,533.6 903.3,531.7 C908.0,529.8 916.3,531.8 923.3,531.7 C930.2,531.6 939.4,532.1 945.0,531.3 C950.6,530.5 953.4,528.0 956.7,526.7 C960.0,525.4 962.2,524.7 965.0,523.3 C967.8,521.9 970.5,519.8 973.3,518.3 C976.1,516.8 978.9,514.5 981.7,514.2 C984.5,513.9 986.7,516.3 990.0,516.7 C993.3,517.1 997.0,516.6 1001.7,516.7 C1006.4,516.8 1013.3,517.2 1018.3,517.5 C1023.3,517.8 1028.4,517.6 1031.7,518.3 C1035.0,519.0 1036.5,520.3 1038.3,521.7 C1040.1,523.1 1041.0,524.4 1042.5,526.7 C1044.0,529.1 1045.7,533.0 1047.5,535.8 C1049.3,538.6 1051.2,540.5 1053.3,543.3 C1055.4,546.1 1057.8,550.1 1060.0,552.5 C1062.2,554.9 1063.7,557.1 1066.7,557.5 C1069.8,557.9 1074.7,555.0 1078.3,555.0 C1081.9,555.0 1085.3,557.0 1088.3,557.5 C1091.3,558.0 1095.1,558.2 1096.5,558.3" fill="none" stroke="#333" stroke-width="1.1"/>
<line x1="0" y1="521.5" x2="1232" y2="521.5" stroke="#787878" stroke-width="1" stroke-dasharray="1,2"/>
<rect x="-4.0" y="792.5" width="5" height="22.5" fill="#f7525f"/>
<rect x="2.0" y="792.5" width="5" height="23.1" fill="#f7525f"/>
<rect x="8.0" y="792.5" width="5" height="26.2" fill="#f7525f"/>
<rect x="14.0" y="792.5" width="5" height="32.2" fill="#f7525f"/>
<rect x="20.0" y="792.5" width="5" height="36.2" fill="#f7525f"/>
<rect x="26.0" y="792.5" width="5" height="36.2" fill="#fccbcd"/>
<rect x="32.0" y="792.5" width="5" height="27.2" fill="#fccbcd"/>
<rect x="38.0" y="792.5" width="5" height="27.2" fill="#fccbcd"/>
<rect x="44.0" y="792.5" width="5" height="25.2" fill="#fccbcd"/>
<rect x="50.0" y="792.5" width="5" height="25.2" fill="#f7525f"/>
<rect x="56.0" y="792.5" width="5" height="19.0" fill="#fccbcd"/>
<rect x="62.0" y="792.5" width="5" height="13.1" fill="#fccbcd"/>
<rect x="68.0" y="792.5" width="5" height="15.2" fill="#f7525f"/>
<rect x="74.0" y="792.5" width="5" height="20.2" fill="#f7525f"/>
<rect x="80.0" y="792.5" width="5" height="23.1" fill="#f7525f"/>
<rect x="86.0" y="792.5" width="5" height="19.4" fill="#fccbcd"/>
<rect x="92.0" y="792.5" width="5" height="15.2" fill="#fccbcd"/>
<rect x="98.0" y="792.5" width="5" height="18.1" fill="#f7525f"/>
<rect x="104.0" y="792.5" width="5" height="24.4" fill="#f7525f"/>
<rect x="110.0" y="792.5" width="5" height="27.2" fill="#f7525f"/>
<rect x="116.0" y="792.5" width="5" height="24.4" fill="#fccbcd"/>
<rect x="122.0" y="792.5" width="5" height="22.2" fill="#fccbcd"/>
<rect x="128.0" y="792.5" width="5" height="16.2" fill="#fccbcd"/>
<rect x="134.0" y="792.5" width="5" height="13.5" fill="#fccbcd"/>
<rect x="140.0" y="792.5" width="5" height="9.4" fill="#fccbcd"/>
<rect x="146.0" y="792.5" width="5" height="7.2" fill="#fccbcd"/>
<rect x="152.0" y="792.5" width="5" height="4.4" fill="#fccbcd"/>
<rect x="158.0" y="788.1" width="5" height="4.4" fill="#22ab94"/>
<rect x="164.0" y="784.1" width="5" height="8.4" fill="#22ab94"/>
<rect x="170.0" y="778.1" width="5" height="14.4" fill="#22ab94"/>
<rect x="176.0" y="772.0" width="5" height="20.5" fill="#22ab94"/>
<rect x="182.0" y="768.9" width="5" height="23.6" fill="#22ab94"/>
<rect x="188.0" y="770.0" width="5" height="22.5" fill="#ace5dc"/>
<rect x="194.0" y="765.0" width="5" height="27.5" fill="#22ab94"/>
<rect x="200.0" y="764.1" width="5" height="28.4" fill="#22ab94"/>
<rect x="206.0" y="778.1" width="5" height="14.4" fill="#ace5dc"/>
<rect x="212.0" y="792.5" width="5" height="9.2" fill="#f7525f"/>
<rect x="218.0" y="792.5" width="5" height="35.0" fill="#f7525f"/>
<rect x="224.0" y="792.5" width="5" height="35.0" fill="#fccbcd"/>
<rect x="230.0" y="792.5" width="5" height="41.2" fill="#f7525f"/>
<rect x="236.0" y="792.5" width="5" height="38.1" fill="#fccbcd"/>
<rect x="242.0" y="792.5" width="5" height="33.4" fill="#fccbcd"/>
<rect x="248.0" y="792.5" width="5" height="25.9" fill="#fccbcd"/>
<rect x="254.0" y="792.5" width="5" height="13.9" fill="#fccbcd"/>
<rect x="260.0" y="792.5" width="5" height="6.1" fill="#fccbcd"/>
<rect x="266.0" y="792.5" width="5" height="3.3" fill="#fccbcd"/>
<rect x="272.0" y="791.1" width="5" height="1.4" fill="#22ab94"/>
<rect x="278.0" y="786.9" width="5" height="5.6" fill="#22ab94"/>
<rect x="284.0" y="792.5" width="5" height="1.2" fill="#f7525f"/>
<rect x="290.0" y="792.5" width="5" height="10.3" fill="#f7525f"/>
<rect x="296.0" y="792.5" width="5" height="12.2" fill="#f7525f"/>
<rect x="302.0" y="792.5" width="5" height="13.1" fill="#f7525f"/>
<rect x="308.0" y="792.5" width="5" height="11.6" fill="#fccbcd"/>
<rect x="314.0" y="792.5" width="5" height="11.6" fill="#f7525f"/>
<rect x="320.0" y="792.5" width="5" height="2.2" fill="#fccbcd"/>
<rect x="326.0" y="785.3" width="5" height="7.2" fill="#22ab94"/>
<rect x="332.0" y="771.2" width="5" height="21.2" fill="#22ab94"/>
<rect x="338.0" y="764.1" width="5" height="28.4" fill="#22ab94"/>
<rect x="344.0" y="765.9" width="5" height="26.6" fill="#ace5dc"/>
<rect x="350.0" y="765.9" width="5" height="26.6" fill="#22ab94"/>
<rect x="356.0" y="765.2" width="5" height="27.3" fill="#22ab94"/>
<rect x="362.0" y="768.0" width="5" height="24.5" fill="#ace5dc"/>
<rect x="368.0" y="773.1" width="5" height="19.4" fill="#ace5dc"/>
<rect x="374.0" y="773.1" width="5" height="19.4" fill="#ace5dc"/>
<rect x="380.0" y="773.1" width="5" height="19.4" fill="#ace5dc"/>
<rect x="386.0" y="777.0" width="5" height="15.5" fill="#ace5dc"/>
<rect x="392.0" y="780.0" width="5" height="12.5" fill="#ace5dc"/>
<rect x="398.0" y="774.2" width="5" height="18.3" fill="#22ab94"/>
<rect x="404.0" y="773.1" width="5" height="19.4" fill="#22ab94"/>
<rect x="410.0" y="771.1" width="5" height="21.4" fill="#22ab94"/>
<rect x="416.0" y="765.9" width="5" height="26.6" fill="#22ab94"/>
<rect x="422.0" y="764.1" width="5" height="28.4" fill="#22ab94"/>
<rect x="428.0" y="752.8" width="5" height="39.7" fill="#22ab94"/>
<rect x="434.0" y="746.2" width="5" height="46.3" fill="#22ab94"/>
<rect x="440.0" y="731.1" width="5" height="61.4" fill="#22ab94"/>
<rect x="446.0" y="722.2" width="5" height="70.3" fill="#22ab94"/>
<rect x="452.0" y="723.1" width="5" height="69.4" fill="#ace5dc"/>
<rect x="458.0" y="725.3" width="5" height="67.2" fill="#ace5dc"/>
<rect x="464.0" y="759.1" width="5" height="33.4" fill="#ace5dc"/>
<rect x="470.0" y="783.1" width="5" height="9.4" fill="#ace5dc"/>
<rect x="476.0" y="792.5" width="5" height="6.2" fill="#f7525f"/>
<rect x="482.0" y="792.5" width="5" height="16.1" fill="#f7525f"/>
<rect x="488.0" y="792.5" width="5" height="21.2" fill="#f7525f"/>
<rect x="494.0" y="792.5" width="5" height="18.1" fill="#fccbcd"/>
<rect x="500.0" y="792.5" width="5" height="16.1" fill="#fccbcd"/>
<rect x="506.0" y="792.5" width="5" height="12.2" fill="#fccbcd"/>
<rect x="512.0" y="792.5" width="5" height="9.1" fill="#fccbcd"/>
<rect x="518.0" y="792.5" width="5" height="7.2" fill="#fccbcd"/>
<rect x="524.0" y="792.5" width="5" height="10.2" fill="#f7525f"/>
<rect x="530.0" y="792.5" width="5" height="5.9" fill="#fccbcd"/>
<rect x="536.0" y="792.5" width="5" height="10.2" fill="#f7525f"/>
<rect x="542.0" y="792.5" width="5" height="13.3" fill="#f7525f"/>
<rect x="548.0" y="792.5" width="5" height="15.3" fill="#f7525f"/>
<rect x="554.0" y="792.5" width="5" height="19.1" fill="#f7525f"/>
<rect x="560.0" y="792.5" width="5" height="21.1" fill="#f7525f"/>
<rect x="566.0" y="792.5" width="5" height="19.1" fill="#fccbcd"/>
<rect x="572.0" y="792.5" width="5" height="20.3" fill="#f7525f"/>
<rect x="578.0" y="792.5" width="5" height="7.3" fill="#fccbcd"/>
<rect x="584.0" y="787.0" width="5" height="5.5" fill="#22ab94"/>
<rect x="590.0" y="783.1" width="5" height="9.4" fill="#22ab94"/>
<rect x="596.0" y="788.1" width="5" height="4.4" fill="#ace5dc"/>
<rect x="602.0" y="792.5" width="5" height="6.2" fill="#f7525f"/>
<rect x="608.0" y="792.5" width="5" height="15.3" fill="#f7525f"/>
<rect x="614.0" y="792.5" width="5" height="22.2" fill="#f7525f"/>
<rect x="620.0" y="792.5" width="5" height="26.2" fill="#f7525f"/>
<rect x="626.0" y="792.5" width="5" height="28.1" fill="#f7525f"/>
<rect x="632.0" y="792.5" width="5" height="29.2" fill="#f7525f"/>
<rect x="638.0" y="792.5" width="5" height="25.3" fill="#fccbcd"/>
<rect x="644.0" y="792.5" width="5" height="23.1" fill="#fccbcd"/>
<rect x="650.0" y="792.5" width="5" height="24.2" fill="#f7525f"/>
<rect x="656.0" y="792.5" width="5" height="20.3" fill="#fccbcd"/>
<rect x="662.0" y="792.5" width="5" height="15.3" fill="#fccbcd"/>
<rect x="668.0" y="792.5" width="5" height="9.4" fill="#fccbcd"/>
<rect x="674.0" y="792.5" width="5" height="6.6" fill="#fccbcd"/>
<rect x="680.0" y="792.5" width="5" height="2.3" fill="#fccbcd"/>
<rect x="686.0" y="790.2" width="5" height="2.3" fill="#22ab94"/>
<rect x="692.0" y="787.0" width="5" height="5.5" fill="#22ab94"/>
<rect x="698.0" y="787.0" width="5" height="5.5" fill="#22ab94"/>
<rect x="704.0" y="788.1" width="5" height="4.4" fill="#ace5dc"/>
<rect x="710.0" y="792.5" width="5" height="1.0" fill="#f7525f"/>
<rect x="716.0" y="792.5" width="5" height="1.0" fill="#f7525f"/>
<rect x="722.0" y="789.1" width="5" height="3.4" fill="#22ab94"/>
<rect x="728.0" y="792.2" width="5" height="0.3" fill="#ace5dc"/>
<rect x="734.0" y="792.2" width="5" height="0.3" fill="#ace5dc"/>
<rect x="740.0" y="785.0" width="5" height="7.5" fill="#22ab94"/>
<rect x="746.0" y="783.1" width="5" height="9.4" fill="#22ab94"/>
<rect x="752.0" y="783.9" width="5" height="8.6" fill="#ace5dc"/>
<rect x="758.0" y="788.1" width="5" height="4.4" fill="#ace5dc"/>
<rect x="764.0" y="786.2" width="5" height="6.2" fill="#22ab94"/>
<rect x="770.0" y="781.2" width="5" height="11.2" fill="#22ab94"/>
<rect x="776.0" y="777.2" width="5" height="15.3" fill="#22ab94"/>
<rect x="782.0" y="775.0" width="5" height="17.5" fill="#22ab94"/>
<rect x="788.0" y="783.9" width="5" height="8.6" fill="#ace5dc"/>
<rect x="794.0" y="791.2" width="5" height="1.2" fill="#ace5dc"/>
<rect x="800.0" y="792.5" width="5" height="7.3" fill="#f7525f"/>
<rect x="806.0" y="792.5" width="5" height="12.2" fill="#f7525f"/>
<rect x="812.0" y="792.5" width="5" height="10.2" fill="#fccbcd"/>
<rect x="818.0" y="792.5" width="5" height="7.3" fill="#fccbcd"/>
<rect x="824.0" y="792.5" width="5" height="7.3" fill="#f7525f"/>
<rect x="830.0" y="792.5" width="5" height="17.2" fill="#f7525f"/>
<rect x="836.0" y="792.5" width="5" height="20.0" fill="#f7525f"/>
<rect x="842.0" y="792.5" width="5" height="21.1" fill="#f7525f"/>
<rect x="848.0" y="792.5" width="5" height="24.2" fill="#f7525f"/>
<rect x="854.0" y="792.5" width="5" height="25.0" fill="#f7525f"/>
<rect x="860.0" y="792.5" width="5" height="23.1" fill="#fccbcd"/>
<rect x="866.0" y="792.5" width="5" height="14.1" fill="#fccbcd"/>
<rect x="872.0" y="791.2" width="5" height="1.2" fill="#22ab94"/>
<rect x="878.0" y="783.1" width="5" height="9.4" fill="#22ab94"/>
<rect x="884.0" y="781.2" width="5" height="11.2" fill="#22ab94"/>
<rect x="890.0" y="780.0" width="5" height="12.5" fill="#22ab94"/>
<rect x="896.0" y="779.2" width="5" height="13.3" fill="#22ab94"/>
<rect x="902.0" y="777.2" width="5" height="15.3" fill="#22ab94"/>
<rect x="908.0" y="778.1" width="5" height="14.4" fill="#ace5dc"/>
<rect x="914.0" y="781.2" width="5" height="11.2" fill="#ace5dc"/>
<rect x="920.0" y="783.1" width="5" height="9.4" fill="#ace5dc"/>
<rect x="926.0" y="783.9" width="5" height="8.6" fill="#ace5dc"/>
<rect x="932.0" y="780.8" width="5" height="11.7" fill="#22ab94"/>
<rect x="938.0" y="787.0" width="5" height="5.5" fill="#ace5dc"/>
<rect x="944.0" y="790.9" width="5" height="1.6" fill="#ace5dc"/>
<rect x="950.0" y="787.8" width="5" height="4.7" fill="#22ab94"/>
<rect x="956.0" y="784.7" width="5" height="7.8" fill="#22ab94"/>
<rect x="962.0" y="785.9" width="5" height="6.6" fill="#ace5dc"/>
<rect x="968.0" y="788.6" width="5" height="3.9" fill="#ace5dc"/>
<rect x="974.0" y="792.5" width="5" height="2.3" fill="#f7525f"/>
<rect x="980.0" y="792.5" width="5" height="4.4" fill="#f7525f"/>
<rect x="986.0" y="792.5" width="5" height="3.4" fill="#fccbcd"/>
<rect x="992.0" y="792.5" width="5" height="2.3" fill="#fccbcd"/>
<rect x="998.0" y="792.5" width="5" height="1.2" fill="#fccbcd"/>
<rect x="1004.0" y="790.2" width="5" height="2.3" fill="#22ab94"/>
<rect x="1010.0" y="787.0" width="5" height="5.5" fill="#22ab94"/>
<rect x="1016.0" y="783.1" width="5" height="9.4" fill="#22ab94"/>
<rect x="1022.0" y="785.9" width="5" height="6.6" fill="#ace5dc"/>
<rect x="1028.0" y="787.0" width="5" height="5.5" fill="#ace5dc"/>
<rect x="1034.0" y="790.2" width="5" height="2.3" fill="#ace5dc"/>
<rect x="1040.0" y="792.5" width="5" height="2.3" fill="#f7525f"/>
<rect x="1046.0" y="792.5" width="5" height="11.2" fill="#f7525f"/>
<rect x="1052.0" y="792.5" width="5" height="10.2" fill="#fccbcd"/>
<rect x="1058.0" y="792.5" width="5" height="12.2" fill="#f7525f"/>
<rect x="1064.0" y="792.5" width="5" height="11.2" fill="#fccbcd"/>
<rect x="1070.0" y="792.5" width="5" height="3.4" fill="#fccbcd"/>
<rect x="1076.0" y="789.1" width="5" height="3.4" fill="#22ab94"/>
<rect x="1082.0" y="790.2" width="5" height="2.3" fill="#ace5dc"/>
<rect x="1088.0" y="788.1" width="5" height="4.4" fill="#22ab94"/>
<rect x="1094.0" y="787.0" width="5" height="5.5" fill="#22ab94"/>
<path d="M0.0,745.6 C1.5,747.6 7.0,755.4 8.8,757.5 C10.6,759.6 9.8,756.1 10.8,758.4 C11.8,760.7 13.1,766.4 15.0,771.2 C16.9,776.1 20.9,784.2 22.5,787.5 C24.1,790.8 23.5,789.4 24.4,790.9 C25.3,792.4 26.7,795.7 28.1,796.2 C29.6,796.8 31.9,794.4 33.1,794.4 C34.3,794.4 34.1,795.2 35.2,796.3 C36.4,797.4 38.0,799.5 40.0,801.2 C42.0,803.0 45.4,805.2 47.5,806.9 C49.6,808.6 51.4,810.5 52.5,811.2 C53.6,812.0 53.4,811.5 54.2,811.2 C55.0,811.0 55.9,810.6 57.5,810.0 C59.1,809.4 61.4,806.3 63.7,807.4 C66.0,808.4 68.3,812.2 71.2,816.2 C74.2,820.3 77.7,828.9 81.3,831.8 C84.8,834.6 90.2,832.7 92.5,833.1 C94.8,833.5 93.6,833.1 94.8,834.3 C96.1,835.4 97.4,835.6 100.0,840.0 C102.6,844.4 106.4,855.9 110.5,860.7 C114.7,865.5 118.3,868.2 124.7,869.0 C131.1,869.8 142.7,867.6 149.0,865.4 C155.3,863.2 158.5,860.3 162.6,856.0 C166.7,851.7 169.3,846.0 173.4,839.7 C177.5,833.4 182.6,824.8 187.0,818.0 C191.4,811.2 197.5,802.6 200.0,799.0 C202.5,795.4 200.2,794.5 201.8,796.3 C203.5,798.1 207.0,798.1 209.9,809.9 C212.8,821.6 215.6,853.2 219.4,866.8 C223.2,880.3 228.4,885.3 232.9,891.2 C237.4,897.1 241.5,902.8 246.5,902.0 C251.5,901.2 257.3,890.8 262.8,886.3 C268.2,881.8 274.0,874.0 279.0,875.0 C284.0,876.0 288.5,887.8 292.6,892.5 C296.7,897.2 299.6,901.1 303.4,903.4 C307.2,905.7 311.5,908.6 315.6,906.1 C319.7,903.6 324.0,897.1 327.8,888.5 C331.6,879.9 333.6,863.4 338.6,854.6 C343.6,845.8 352.6,839.4 357.6,835.6 C362.6,831.9 364.3,834.2 368.4,832.1 C372.5,830.0 377.6,824.4 382.0,822.9 C386.4,821.4 391.4,825.0 394.5,823.2 C397.6,821.4 397.9,816.0 400.8,812.1 C403.7,808.2 408.1,805.1 411.7,799.9 C415.3,794.7 419.0,789.2 422.5,780.9 C426.0,772.6 430.2,756.8 432.5,750.0 C434.8,743.2 435.2,743.8 436.1,740.3 C437.0,736.8 436.9,734.0 438.1,728.8 C439.3,723.5 441.6,715.2 443.1,708.8 C444.6,702.3 446.0,694.2 446.9,690.0 C447.8,685.8 446.1,689.6 448.3,683.4 C450.5,677.2 456.5,651.9 459.9,653.0 C463.3,654.1 466.9,683.1 468.8,690.0 C470.6,696.9 470.3,691.1 471.3,694.2 C472.3,697.3 473.2,703.7 475.0,708.8 C476.8,713.8 479.8,718.9 482.3,724.4 C484.8,729.9 488.0,738.7 490.1,741.8 C492.3,744.8 493.3,742.0 495.0,742.5 C496.7,743.0 496.4,744.7 500.6,744.8 C504.7,744.8 515.9,742.4 520.1,743.0 C524.3,743.6 523.7,747.7 525.5,748.4 C527.3,749.1 528.6,745.9 530.9,747.0 C533.2,748.1 536.7,752.5 539.4,755.0 C542.1,757.5 545.4,759.9 547.2,762.0 C549.0,764.1 548.0,764.5 550.3,767.5 C552.6,770.5 558.1,777.1 561.0,779.8 C563.8,782.5 565.3,782.3 567.5,783.9 C569.7,785.5 571.4,792.1 574.0,789.7 C576.6,787.2 581.3,773.3 583.1,769.1 C584.9,764.9 583.5,766.3 585.1,764.7 C586.7,763.1 590.2,759.8 592.5,759.7 C594.8,759.7 596.1,760.5 598.8,764.4 C601.4,768.3 605.0,776.6 608.1,783.1 C611.2,789.6 614.4,797.4 617.5,803.4 C620.6,809.4 624.0,814.9 626.9,819.1 C629.8,823.3 632.1,826.1 634.7,828.4 C637.3,830.7 639.4,830.9 642.5,833.1 C645.6,835.3 650.8,840.0 653.4,841.7 C656.0,843.4 655.2,843.9 658.1,843.3 C661.0,842.6 667.2,839.1 670.6,837.8 C674.0,836.5 675.3,837.3 678.4,835.5 C681.5,833.7 685.8,829.0 689.4,826.9 C693.0,824.8 697.4,823.5 700.3,823.0 C703.2,822.5 704.5,823.0 706.6,823.8 C708.7,824.5 709.9,827.6 712.8,827.7 C715.7,827.8 720.9,824.8 723.8,824.5 C726.6,824.2 728.0,826.0 730.0,826.1 C732.0,826.2 732.6,827.4 735.6,825.3 C738.6,823.2 744.2,815.3 748.1,813.6 C752.0,811.9 756.0,815.6 759.1,815.2 C762.2,814.8 763.0,814.9 766.9,811.2 C770.8,807.6 777.8,794.3 782.5,793.3 C787.2,792.3 790.8,800.0 795.0,805.0 C799.2,810.0 803.3,820.1 807.5,823.0 C811.7,825.9 816.9,822.0 820.0,822.2 C823.1,822.5 823.6,821.1 826.2,824.5 C828.9,827.9 833.5,838.6 835.6,842.5 C837.7,846.4 836.4,845.0 838.8,848.1 C841.1,851.2 846.2,857.3 850.0,861.2 C853.8,865.2 858.1,871.1 861.2,871.8 C864.4,872.4 865.6,869.9 868.8,865.0 C871.9,860.1 876.1,847.7 880.0,842.5 C883.9,837.3 889.4,835.5 891.9,833.9 C894.4,832.3 892.1,835.3 895.0,833.1 C897.9,830.9 904.9,822.6 909.1,820.6 C913.3,818.6 917.2,821.3 920.0,821.4 C922.8,821.5 923.2,822.6 925.6,821.4 C928.0,820.2 930.8,814.2 934.2,814.4 C937.6,814.6 941.9,822.5 945.9,822.5 C949.9,822.5 955.0,815.7 958.4,814.4 C961.8,813.1 962.3,813.0 966.2,814.7 C970.2,816.4 976.4,822.9 981.9,824.5 C987.4,826.1 993.1,826.6 999.1,824.1 C1005.1,821.6 1012.9,811.9 1017.8,809.7 C1022.7,807.5 1025.1,809.9 1028.8,810.9 C1032.4,811.9 1036.6,812.7 1039.7,815.9 C1042.8,819.1 1044.1,826.4 1047.5,830.0 C1050.9,833.6 1057.0,836.1 1060.0,837.5 C1063.0,838.9 1062.6,840.1 1065.5,838.1 C1068.4,836.1 1074.2,827.4 1077.2,825.3 C1080.2,823.2 1081.1,826.2 1083.4,825.6 C1085.7,825.0 1089.1,822.7 1091.2,821.9 C1093.4,821.1 1095.6,820.8 1096.5,820.6" fill="none" stroke="#2196f3" stroke-width="1"/>
<path d="M0.0,723.2 C2.3,726.0 9.2,733.9 13.8,740.0 C18.3,746.1 22.9,754.4 27.5,760.0 C32.1,765.6 37.7,770.0 41.2,773.8 C44.8,777.5 46.5,780.4 48.8,782.8 C51.1,785.2 51.4,785.5 55.0,788.1 C58.6,790.7 65.2,794.4 70.2,798.2 C75.2,802.1 81.4,808.4 85.0,811.2 C88.6,814.1 89.6,813.4 92.1,815.3 C94.6,817.2 96.6,819.2 100.0,822.5 C103.4,825.8 110.2,832.6 112.5,835.0 C114.8,837.4 111.7,835.1 113.8,837.0 C115.9,838.9 121.4,843.8 125.0,846.2 C128.6,848.7 133.4,850.6 135.5,851.9 C137.6,853.1 135.1,852.7 137.5,853.8 C139.9,854.8 147.2,857.2 150.0,858.1 C152.8,859.0 152.8,859.3 154.5,859.2 C156.2,859.1 157.8,858.0 160.0,857.5 C162.2,857.0 163.9,858.5 168.0,856.0 C172.1,853.5 179.0,847.4 184.3,842.4 C189.6,837.4 196.2,829.9 200.0,826.2 C203.8,822.5 204.9,820.7 207.2,820.2 C209.5,819.7 210.6,820.1 214.0,823.4 C217.4,826.6 221.6,831.1 227.5,839.7 C233.4,848.3 242.9,868.0 249.2,874.9 C255.5,881.8 260.1,880.0 265.5,880.9 C270.9,881.8 276.3,879.3 281.7,880.4 C287.1,881.4 292.6,884.6 298.0,887.1 C303.4,889.6 309.2,894.1 314.2,895.2 C319.2,896.4 322.8,897.3 327.8,893.9 C332.8,890.5 338.1,881.2 344.0,874.9 C349.9,868.6 356.2,861.9 363.0,856.0 C369.8,850.1 380.2,842.8 384.7,839.7 C389.2,836.6 388.3,838.2 390.0,837.3 C391.7,836.4 392.3,836.5 395.0,834.3 C397.7,832.1 401.7,828.4 406.3,824.3 C410.9,820.1 418.0,814.6 422.5,809.4 C427.0,804.2 429.3,801.0 433.4,793.1 C437.5,785.2 444.4,769.2 446.9,762.0 C449.3,754.8 447.1,754.2 448.1,750.0 C449.1,745.8 451.1,742.1 453.1,736.9 C455.1,731.7 458.1,723.3 460.2,719.0 C462.4,714.7 464.3,712.8 466.2,711.2 C468.2,709.7 470.0,709.8 471.9,709.6 C473.8,709.5 475.8,710.0 477.5,710.6 C479.2,711.2 480.9,712.3 482.1,713.2 C483.4,714.1 483.4,714.7 485.0,716.2 C486.6,717.8 489.7,721.0 491.9,722.5 C494.1,724.0 497.0,724.6 498.4,725.4 C499.8,726.2 497.3,726.1 500.0,727.5 C502.7,728.9 509.6,731.4 514.7,733.5 C519.9,735.6 525.5,737.4 530.9,740.3 C536.3,743.2 543.2,748.6 547.2,751.1 C551.2,753.6 552.2,752.9 555.0,755.0 C557.8,757.1 560.7,761.0 563.9,763.8 C567.1,766.5 572.1,770.3 574.3,771.4 C576.5,772.5 575.5,770.8 576.9,770.6 C578.2,770.4 581.1,770.1 582.4,770.1 C583.7,770.1 582.2,771.0 584.7,770.6 C587.2,770.2 593.8,767.8 597.2,767.5 C600.6,767.2 601.6,767.3 605.0,769.1 C608.4,770.9 613.3,774.2 617.5,778.4 C621.7,782.6 625.8,789.1 630.0,794.1 C634.2,799.1 638.3,803.9 642.5,808.1 C646.7,812.3 650.8,816.0 655.0,819.1 C659.2,822.2 663.3,825.0 667.5,826.9 C671.7,828.8 675.8,830.4 680.0,830.8 C684.2,831.2 688.3,829.8 692.5,829.2 C696.7,828.6 700.8,827.5 705.0,827.2 C709.2,826.9 713.3,827.4 717.5,827.2 C721.7,827.0 727.0,826.2 730.0,826.1 C733.0,826.0 731.5,827.5 735.6,826.6 C739.7,825.7 748.7,822.2 754.4,820.6 C760.1,819.0 764.3,819.0 770.0,816.7 C775.7,814.4 784.6,808.4 788.8,806.6 C792.9,804.8 790.8,804.8 795.0,805.8 C799.2,806.8 808.5,810.8 813.8,812.8 C819.0,814.8 821.0,813.6 826.2,817.5 C831.5,821.4 838.8,830.8 845.0,836.2 C851.2,841.7 859.8,847.5 863.8,850.3 C867.7,853.1 867.2,852.6 868.8,853.0 C870.3,853.4 869.2,854.2 873.1,852.7 C877.0,851.2 886.2,847.0 891.9,844.1 C897.6,841.2 902.8,837.9 907.5,835.5 C912.2,833.1 917.5,831.0 920.0,830.0 C922.5,829.0 920.0,830.0 922.5,829.2 C925.0,828.4 930.6,826.1 935.0,825.0 C939.4,823.9 943.4,823.5 949.1,822.5 C954.8,821.5 963.4,819.3 969.4,819.1 C975.4,818.9 979.8,820.8 985.0,821.4 C990.2,822.0 994.9,823.1 1000.6,822.5 C1006.3,821.9 1013.7,818.7 1019.4,817.5 C1025.1,816.3 1030.8,815.3 1035.0,815.2 C1039.2,815.1 1039.2,814.7 1044.4,816.7 C1049.6,818.7 1060.0,825.6 1066.2,827.2 C1072.5,828.9 1076.9,827.0 1081.9,826.6 C1086.9,826.2 1094.1,825.3 1096.5,825.0" fill="none" stroke="#ea4679" stroke-width="2.2" stroke-linejoin="round"/>
<text x="1242" y="594.1" font-size="12.4" fill="#131722" stroke="#131722" stroke-width="0.2" textLength="28" lengthAdjust="spacingAndGlyphs">54.00</text>
<text x="1242" y="553.5" font-size="12.4" fill="#131722" stroke="#131722" stroke-width="0.2" textLength="28" lengthAdjust="spacingAndGlyphs">56.00</text>
<text x="1242" y="512.8" font-size="12.4" fill="#131722" stroke="#131722" stroke-width="0.2" textLength="28" lengthAdjust="spacingAndGlyphs">58.00</text>
<text x="1242" y="472.1" font-size="12.4" fill="#131722" stroke="#131722" stroke-width="0.2" textLength="28" lengthAdjust="spacingAndGlyphs">60.00</text>
<text x="1242" y="431.4" font-size="12.4" fill="#131722" stroke="#131722" stroke-width="0.2" textLength="28" lengthAdjust="spacingAndGlyphs">62.00</text>
<text x="1242" y="390.7" font-size="12.4" fill="#131722" stroke="#131722" stroke-width="0.2" textLength="28" lengthAdjust="spacingAndGlyphs">64.00</text>
<text x="1242" y="350.0" font-size="12.4" fill="#131722" stroke="#131722" stroke-width="0.2" textLength="28" lengthAdjust="spacingAndGlyphs">66.00</text>
<text x="1242" y="309.3" font-size="12.4" fill="#131722" stroke="#131722" stroke-width="0.2" textLength="28" lengthAdjust="spacingAndGlyphs">68.00</text>
<text x="1242" y="268.6" font-size="12.4" fill="#131722" stroke="#131722" stroke-width="0.2" textLength="28" lengthAdjust="spacingAndGlyphs">70.00</text>
<text x="1242" y="227.9" font-size="12.4" fill="#131722" stroke="#131722" stroke-width="0.2" textLength="28" lengthAdjust="spacingAndGlyphs">72.00</text>
<text x="1242" y="187.2" font-size="12.4" fill="#131722" stroke="#131722" stroke-width="0.2" textLength="28" lengthAdjust="spacingAndGlyphs">74.00</text>
<text x="1242" y="146.5" font-size="12.4" fill="#131722" stroke="#131722" stroke-width="0.2" textLength="28" lengthAdjust="spacingAndGlyphs">76.00</text>
<text x="1242" y="105.8" font-size="12.4" fill="#131722" stroke="#131722" stroke-width="0.2" textLength="28" lengthAdjust="spacingAndGlyphs">78.00</text>
<text x="1242" y="65.0" font-size="12.4" fill="#131722" stroke="#131722" stroke-width="0.2" textLength="28" lengthAdjust="spacingAndGlyphs">80.00</text>
<text x="1249" y="646.5" font-size="12.4" fill="#131722" stroke="#131722" stroke-width="0.2" textLength="21" lengthAdjust="spacingAndGlyphs">3.00</text>
<text x="1249" y="696.4" font-size="12.4" fill="#131722" stroke="#131722" stroke-width="0.2" textLength="21" lengthAdjust="spacingAndGlyphs">2.00</text>
<text x="1249" y="746.2" font-size="12.4" fill="#131722" stroke="#131722" stroke-width="0.2" textLength="21" lengthAdjust="spacingAndGlyphs">1.00</text>
<text x="1241" y="895.8" font-size="12.4" fill="#131722" stroke="#131722" stroke-width="0.2" textLength="29" lengthAdjust="spacingAndGlyphs">−2.00</text>
<path d="M1232,453.0 H1274 Q1276,453.0 1276,455.0 V468.0 Q1276,470.0 1274,470.0 H1232 Z" fill="#1e222d"/>
<text x="1242" y="465.3" font-size="12.4" fill="#fff" stroke="#fff" stroke-width="0.2" textLength="28" lengthAdjust="spacingAndGlyphs">60.34</text>
<path d="M1232,478.8 H1274 Q1276,478.8 1276,480.8 V493.8 Q1276,495.8 1274,495.8 H1232 Z" fill="#e8770d"/>
<text x="1242" y="491.1" font-size="12.4" fill="#fff" stroke="#fff" stroke-width="0.2" textLength="28" lengthAdjust="spacingAndGlyphs">59.05</text>
<path d="M1232,495.8 H1274 Q1276,495.8 1276,497.8 V510.8 Q1276,512.8 1274,512.8 H1232 Z" fill="#edd538"/>
<text x="1242" y="508.1" font-size="12.4" fill="#131722" stroke="#131722" stroke-width="0.2" textLength="28" lengthAdjust="spacingAndGlyphs">57.95</text>
<path d="M1232,512.8 H1274 Q1276,512.8 1276,514.8 V527.8 Q1276,529.8 1274,529.8 H1232 Z" fill="#7b7b7b"/>
<text x="1242" y="525.1" font-size="12.4" fill="#fff" stroke="#fff" stroke-width="0.2" textLength="28" lengthAdjust="spacingAndGlyphs">57.40</text>
<path d="M1232,529.5 H1274 Q1276,529.5 1276,531.5 V544.5 Q1276,546.5 1274,546.5 H1232 Z" fill="#f5a623"/>
<text x="1242" y="541.8" font-size="12.4" fill="#131722" stroke="#131722" stroke-width="0.2" textLength="28" lengthAdjust="spacingAndGlyphs">57.11</text>
<path d="M1232,550.9 H1274 Q1276,550.9 1276,552.9 V565.9 Q1276,567.9 1274,567.9 H1232 Z" fill="#1e222d"/>
<text x="1242" y="563.2" font-size="12.4" fill="#fff" stroke="#fff" stroke-width="0.2" textLength="28" lengthAdjust="spacingAndGlyphs">55.56</text>
<path d="M1232,779.1 H1268 Q1270,779.1 1270,781.1 V794.1 Q1270,796.1 1268,796.1 H1232 Z" fill="#22ab94"/>
<text x="1242" y="791.4" font-size="12.4" fill="#fff" stroke="#fff" stroke-width="0.2" textLength="22" lengthAdjust="spacingAndGlyphs">0.09</text>
<path d="M1232,813.0 H1274 Q1276,813.0 1276,815.0 V828.0 Q1276,830.0 1274,830.0 H1232 Z" fill="#2196f3"/>
<text x="1242" y="825.3" font-size="12.4" fill="#fff" stroke="#fff" stroke-width="0.2" textLength="28" lengthAdjust="spacingAndGlyphs">−0.59</text>
<path d="M1232,830.1 H1274 Q1276,830.1 1276,832.1 V845.1 Q1276,847.1 1274,847.1 H1232 Z" fill="#ea4679"/>
<text x="1242" y="842.4" font-size="12.4" fill="#fff" stroke="#fff" stroke-width="0.2" textLength="28" lengthAdjust="spacingAndGlyphs">−0.67</text>
<rect x="0" y="0" width="1228" height="31" fill="#fff"/>
<text x="10" y="20" font-size="12.5" fill="#131722" textLength="176" lengthAdjust="spacingAndGlyphs" font-weight="bold">WTI Crude oil  1D - 1uptick.com</text>
<rect x="4" y="31" width="176" height="70" fill="#fff" fill-opacity="0.82"/>
<text x="9.4" y="44.8" font-size="12" fill="#131722" stroke="#131722" stroke-width="0.22" textLength="13.8" lengthAdjust="spacingAndGlyphs">BB</text>
<text x="28.1" y="44.8" font-size="12" fill="#5d606b" stroke="#5d606b" stroke-width="0.22" textLength="24" lengthAdjust="spacingAndGlyphs">20 2</text>
<text x="67.6" y="44.8" font-size="12" fill="#e8d44d" stroke="#e8d44d" stroke-width="0.22" textLength="32" lengthAdjust="spacingAndGlyphs">57.95</text>
<text x="106.4" y="44.8" font-size="12" fill="#131722" stroke="#131722" stroke-width="0.22" textLength="32.4" lengthAdjust="spacingAndGlyphs">60.34</text>
<text x="145.9" y="44.8" font-size="12" fill="#131722" stroke="#131722" stroke-width="0.22" textLength="31.4" lengthAdjust="spacingAndGlyphs">55.56</text>
<text x="9" y="68.7" font-size="12" fill="#131722" stroke="#131722" stroke-width="0.22" textLength="16.5" lengthAdjust="spacingAndGlyphs">MA</text>
<text x="30.5" y="68.7" font-size="12" fill="#5d606b" stroke="#5d606b" stroke-width="0.22" textLength="94" lengthAdjust="spacingAndGlyphs">10 close 0 SMA 9</text>
<text x="139.6" y="68.7" font-size="12" fill="#f2ad3c" stroke="#f2ad3c" stroke-width="0.22" textLength="31" lengthAdjust="spacingAndGlyphs">57.11</text>
<text x="9" y="92.5" font-size="12" fill="#131722" stroke="#131722" stroke-width="0.22" textLength="16.5" lengthAdjust="spacingAndGlyphs">MA</text>
<text x="30.5" y="92.5" font-size="12" fill="#5d606b" stroke="#5d606b" stroke-width="0.22" textLength="94" lengthAdjust="spacingAndGlyphs">50 close 0 SMA 9</text>
<text x="139.6" y="92.5" font-size="12" fill="#e0861f" stroke="#e0861f" stroke-width="0.22" textLength="31.7" lengthAdjust="spacingAndGlyphs">59.05</text>
<rect x="10.5" y="103.5" width="26.5" height="19" rx="3" fill="#fff" stroke="#e6e6e6"/>
<path d="M19.8,116.2 L23.8,112.2 L27.8,116.2" fill="none" stroke="#131722" stroke-width="1.4"/>
<rect x="4" y="629" width="240" height="24" fill="#fff"/>
<text x="9.3" y="643" font-size="12" fill="#131722" stroke="#131722" stroke-width="0.22" textLength="32.2" lengthAdjust="spacingAndGlyphs">MACD</text>
<text x="46.9" y="643" font-size="12" fill="#5d606b" stroke="#5d606b" stroke-width="0.22" textLength="74.2" lengthAdjust="spacingAndGlyphs">12 26 close 9</text>
<text x="136.1" y="643" font-size="12" fill="#22ab94" stroke="#22ab94" stroke-width="0.22" textLength="25" lengthAdjust="spacingAndGlyphs">0.09</text>
<text x="168.8" y="643" font-size="12" fill="#2196f3" stroke="#2196f3" stroke-width="0.22" textLength="31.8" lengthAdjust="spacingAndGlyphs">−0.59</text>
<text x="207.9" y="643" font-size="12" fill="#ea4679" stroke="#ea4679" stroke-width="0.22" textLength="31.2" lengthAdjust="spacingAndGlyphs">−0.67</text>
<rect x="0" y="932" width="1280" height="28" fill="#fff"/>
<text x="10.5" y="950.2" font-size="11.7" fill="#131722" stroke="#131722" stroke-width="0.2" text-anchor="middle">Feb</text>
<text x="100.5" y="950.2" font-size="11.7" fill="#131722" stroke="#131722" stroke-width="0.2" text-anchor="middle">Mar</text>
<text x="202.5" y="950.2" font-size="11.7" fill="#131722" stroke="#131722" stroke-width="0.2" text-anchor="middle">Apr</text>
<text x="304.5" y="950.2" font-size="11.7" fill="#131722" stroke="#131722" stroke-width="0.2" text-anchor="middle">May</text>
<text x="400.5" y="950.2" font-size="11.7" fill="#131722" stroke="#131722" stroke-width="0.2" text-anchor="middle">Jun</text>
<text x="496.5" y="950.2" font-size="11.7" fill="#131722" stroke="#131722" stroke-width="0.2" text-anchor="middle">Jul</text>
<text x="604.5" y="950.2" font-size="11.7" fill="#131722" stroke="#131722" stroke-width="0.2" text-anchor="middle">Aug</text>
<text x="700.5" y="950.2" font-size="11.7" fill="#131722" stroke="#131722" stroke-width="0.2" text-anchor="middle">Sep</text>
<text x="802.5" y="950.2" font-size="11.7" fill="#131722" stroke="#131722" stroke-width="0.2" text-anchor="middle">Oct</text>
<text x="910.5" y="950.2" font-size="11.7" fill="#131722" stroke="#131722" stroke-width="0.2" text-anchor="middle">Nov</text>
<text x="1000.5" y="950.2" font-size="11.7" fill="#131722" stroke="#131722" stroke-width="0.2" text-anchor="middle">Dec</text>
<text x="1108.5" y="950.2" font-size="11.7" fill="#131722" stroke="#131722" stroke-width="0.2" text-anchor="middle" font-weight="bold">2026</text>
<text x="1228.5" y="950.2" font-size="11.7" fill="#131722" stroke="#131722" stroke-width="0.2" text-anchor="middle">Feb</text>
<rect x="1232" y="932" width="48" height="28" fill="#fff"/>
<g transform="translate(1256.5,946.4)" fill="none" stroke="#131722" stroke-width="1.3"><circle r="4.8"/><line x1="0" y1="-5" x2="0" y2="-7.5" transform="rotate(0)"/><line x1="0" y1="-5" x2="0" y2="-7.5" transform="rotate(45)"/><line x1="0" y1="-5" x2="0" y2="-7.5" transform="rotate(90)"/><line x1="0" y1="-5" x2="0" y2="-7.5" transform="rotate(135)"/><line x1="0" y1="-5" x2="0" y2="-7.5" transform="rotate(180)"/><line x1="0" y1="-5" x2="0" y2="-7.5" transform="rotate(225)"/><line x1="0" y1="-5" x2="0" y2="-7.5" transform="rotate(270)"/><line x1="0" y1="-5" x2="0" y2="-7.5" transform="rotate(315)"/></g>
<circle cx="23.5" cy="910" r="16" fill="#fff" stroke="#ececec"/>
<path d="M13,905 H21.9 V915.7 H18 V908.7 H13 Z M27.6,905.2 H34.2 L30.7,915.7 H25.3 Z" fill="#131722"/><circle cx="24.9" cy="907" r="1.75" fill="#131722"/>
</svg></body></html>
